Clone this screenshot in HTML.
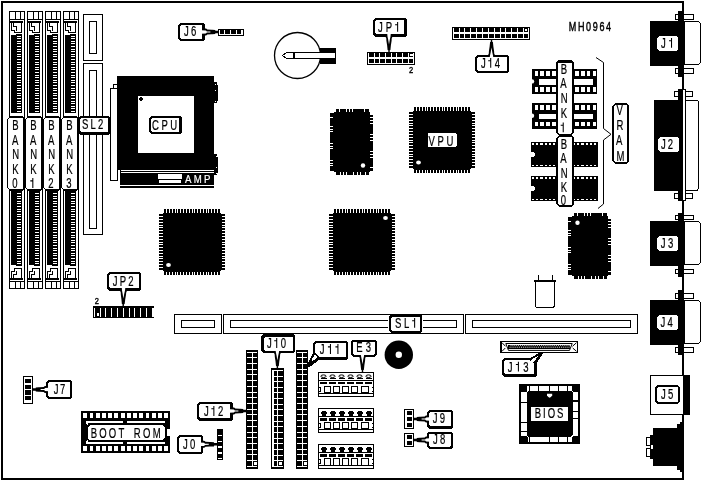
<!DOCTYPE html>
<html><head><meta charset="utf-8"><title>MH0964</title>
<style>
html,body{margin:0;padding:0;background:#fff;}
body{width:701px;height:481px;overflow:hidden;}
svg{display:block;filter:grayscale(1);}
svg text{font-family:"Liberation Sans",sans-serif;}
</style></head><body>
<svg width="701" height="481" viewBox="0 0 701 481" shape-rendering="crispEdges">
<rect x="2" y="2" width="681" height="477" fill="#fff" stroke="#000" stroke-width="2"/>
<rect x="9" y="11" width="16" height="278" fill="#000" />
<rect x="10" y="12" width="14" height="276" fill="#fff" />
<rect x="15" y="11" width="1" height="8" fill="#000" />
<rect x="20" y="11" width="1" height="8" fill="#000" />
<rect x="9" y="19" width="16" height="1" fill="#000" />
<rect x="10" y="21" width="13" height="2" fill="#000" />
<polyline points="11.5,23 11.5,30 14.5,30 14.5,32.5 21,32.5 21,23" fill="none" stroke="#000" stroke-width="1" />
<polyline points="13.5,23 13.5,26.5 16,26.5 16,30.5" fill="none" stroke="#000" stroke-width="1" />
<rect x="11" y="35" width="6" height="78" fill="#000" />
<rect x="16" y="34" width="6.4" height="79" fill="#000" />
<rect x="16.6" y="35.6" width="4.8" height="1" fill="#fff" />
<rect x="16.6" y="38.2" width="4.8" height="1" fill="#fff" />
<rect x="16.6" y="40.8" width="4.8" height="1" fill="#fff" />
<rect x="16.6" y="43.4" width="4.8" height="1" fill="#fff" />
<rect x="16.6" y="46" width="4.8" height="1" fill="#fff" />
<rect x="16.6" y="48.6" width="4.8" height="1" fill="#fff" />
<rect x="16.6" y="51.2" width="4.8" height="1" fill="#fff" />
<rect x="16.6" y="53.8" width="4.8" height="1" fill="#fff" />
<rect x="16.6" y="56.4" width="4.8" height="1" fill="#fff" />
<rect x="16.6" y="59" width="4.8" height="1" fill="#fff" />
<rect x="16.6" y="61.6" width="4.8" height="1" fill="#fff" />
<rect x="16.6" y="64.2" width="4.8" height="1" fill="#fff" />
<rect x="16.6" y="66.8" width="4.8" height="1" fill="#fff" />
<rect x="16.6" y="69.4" width="4.8" height="1" fill="#fff" />
<rect x="16.6" y="72" width="4.8" height="1" fill="#fff" />
<rect x="16.6" y="74.6" width="4.8" height="1" fill="#fff" />
<rect x="16.6" y="77.2" width="4.8" height="1" fill="#fff" />
<rect x="16.6" y="79.8" width="4.8" height="1" fill="#fff" />
<rect x="16.6" y="82.4" width="4.8" height="1" fill="#fff" />
<rect x="16.6" y="85" width="4.8" height="1" fill="#fff" />
<rect x="16.6" y="87.6" width="4.8" height="1" fill="#fff" />
<rect x="16.6" y="90.2" width="4.8" height="1" fill="#fff" />
<rect x="16.6" y="92.8" width="4.8" height="1" fill="#fff" />
<rect x="16.6" y="95.4" width="4.8" height="1" fill="#fff" />
<rect x="16.6" y="98" width="4.8" height="1" fill="#fff" />
<rect x="16.6" y="100.6" width="4.8" height="1" fill="#fff" />
<rect x="16.6" y="103.2" width="4.8" height="1" fill="#fff" />
<rect x="16.6" y="105.8" width="4.8" height="1" fill="#fff" />
<rect x="16.6" y="108.4" width="4.8" height="1" fill="#fff" />
<rect x="16.6" y="111" width="4.8" height="1" fill="#fff" />
<rect x="11" y="191" width="6" height="73.5" fill="#000" />
<rect x="16" y="191" width="6.4" height="74.5" fill="#000" />
<rect x="16.6" y="193" width="4.8" height="1" fill="#fff" />
<rect x="16.6" y="195.6" width="4.8" height="1" fill="#fff" />
<rect x="16.6" y="198.2" width="4.8" height="1" fill="#fff" />
<rect x="16.6" y="200.8" width="4.8" height="1" fill="#fff" />
<rect x="16.6" y="203.4" width="4.8" height="1" fill="#fff" />
<rect x="16.6" y="206" width="4.8" height="1" fill="#fff" />
<rect x="16.6" y="208.6" width="4.8" height="1" fill="#fff" />
<rect x="16.6" y="211.2" width="4.8" height="1" fill="#fff" />
<rect x="16.6" y="213.8" width="4.8" height="1" fill="#fff" />
<rect x="16.6" y="216.4" width="4.8" height="1" fill="#fff" />
<rect x="16.6" y="219" width="4.8" height="1" fill="#fff" />
<rect x="16.6" y="221.6" width="4.8" height="1" fill="#fff" />
<rect x="16.6" y="224.2" width="4.8" height="1" fill="#fff" />
<rect x="16.6" y="226.8" width="4.8" height="1" fill="#fff" />
<rect x="16.6" y="229.4" width="4.8" height="1" fill="#fff" />
<rect x="16.6" y="232" width="4.8" height="1" fill="#fff" />
<rect x="16.6" y="234.6" width="4.8" height="1" fill="#fff" />
<rect x="16.6" y="237.2" width="4.8" height="1" fill="#fff" />
<rect x="16.6" y="239.8" width="4.8" height="1" fill="#fff" />
<rect x="16.6" y="242.4" width="4.8" height="1" fill="#fff" />
<rect x="16.6" y="245" width="4.8" height="1" fill="#fff" />
<rect x="16.6" y="247.6" width="4.8" height="1" fill="#fff" />
<rect x="16.6" y="250.2" width="4.8" height="1" fill="#fff" />
<rect x="16.6" y="252.8" width="4.8" height="1" fill="#fff" />
<rect x="16.6" y="255.4" width="4.8" height="1" fill="#fff" />
<rect x="16.6" y="258" width="4.8" height="1" fill="#fff" />
<rect x="16.6" y="260.6" width="4.8" height="1" fill="#fff" />
<rect x="16.6" y="263.2" width="4.8" height="1" fill="#fff" />
<polyline points="11.5,278 11.5,271 14.5,271 14.5,268.5 21,268.5 21,278" fill="none" stroke="#000" stroke-width="1" />
<polyline points="13.5,278 13.5,274.5 16,274.5 16,270.5" fill="none" stroke="#000" stroke-width="1" />
<rect x="10" y="278" width="13" height="2" fill="#000" />
<rect x="9" y="281" width="16" height="1" fill="#000" />
<rect x="15" y="282" width="1" height="7" fill="#000" />
<rect x="20" y="282" width="1" height="7" fill="#000" />
<rect x="27" y="11" width="16" height="278" fill="#000" />
<rect x="28" y="12" width="14" height="276" fill="#fff" />
<rect x="33" y="11" width="1" height="8" fill="#000" />
<rect x="38" y="11" width="1" height="8" fill="#000" />
<rect x="27" y="19" width="16" height="1" fill="#000" />
<rect x="28" y="21" width="13" height="2" fill="#000" />
<polyline points="29.5,23 29.5,30 32.5,30 32.5,32.5 39,32.5 39,23" fill="none" stroke="#000" stroke-width="1" />
<polyline points="31.5,23 31.5,26.5 34,26.5 34,30.5" fill="none" stroke="#000" stroke-width="1" />
<rect x="29" y="35" width="6" height="78" fill="#000" />
<rect x="34" y="34" width="6.4" height="79" fill="#000" />
<rect x="34.6" y="35.6" width="4.8" height="1" fill="#fff" />
<rect x="34.6" y="38.2" width="4.8" height="1" fill="#fff" />
<rect x="34.6" y="40.8" width="4.8" height="1" fill="#fff" />
<rect x="34.6" y="43.4" width="4.8" height="1" fill="#fff" />
<rect x="34.6" y="46" width="4.8" height="1" fill="#fff" />
<rect x="34.6" y="48.6" width="4.8" height="1" fill="#fff" />
<rect x="34.6" y="51.2" width="4.8" height="1" fill="#fff" />
<rect x="34.6" y="53.8" width="4.8" height="1" fill="#fff" />
<rect x="34.6" y="56.4" width="4.8" height="1" fill="#fff" />
<rect x="34.6" y="59" width="4.8" height="1" fill="#fff" />
<rect x="34.6" y="61.6" width="4.8" height="1" fill="#fff" />
<rect x="34.6" y="64.2" width="4.8" height="1" fill="#fff" />
<rect x="34.6" y="66.8" width="4.8" height="1" fill="#fff" />
<rect x="34.6" y="69.4" width="4.8" height="1" fill="#fff" />
<rect x="34.6" y="72" width="4.8" height="1" fill="#fff" />
<rect x="34.6" y="74.6" width="4.8" height="1" fill="#fff" />
<rect x="34.6" y="77.2" width="4.8" height="1" fill="#fff" />
<rect x="34.6" y="79.8" width="4.8" height="1" fill="#fff" />
<rect x="34.6" y="82.4" width="4.8" height="1" fill="#fff" />
<rect x="34.6" y="85" width="4.8" height="1" fill="#fff" />
<rect x="34.6" y="87.6" width="4.8" height="1" fill="#fff" />
<rect x="34.6" y="90.2" width="4.8" height="1" fill="#fff" />
<rect x="34.6" y="92.8" width="4.8" height="1" fill="#fff" />
<rect x="34.6" y="95.4" width="4.8" height="1" fill="#fff" />
<rect x="34.6" y="98" width="4.8" height="1" fill="#fff" />
<rect x="34.6" y="100.6" width="4.8" height="1" fill="#fff" />
<rect x="34.6" y="103.2" width="4.8" height="1" fill="#fff" />
<rect x="34.6" y="105.8" width="4.8" height="1" fill="#fff" />
<rect x="34.6" y="108.4" width="4.8" height="1" fill="#fff" />
<rect x="34.6" y="111" width="4.8" height="1" fill="#fff" />
<rect x="29" y="191" width="6" height="73.5" fill="#000" />
<rect x="34" y="191" width="6.4" height="74.5" fill="#000" />
<rect x="34.6" y="193" width="4.8" height="1" fill="#fff" />
<rect x="34.6" y="195.6" width="4.8" height="1" fill="#fff" />
<rect x="34.6" y="198.2" width="4.8" height="1" fill="#fff" />
<rect x="34.6" y="200.8" width="4.8" height="1" fill="#fff" />
<rect x="34.6" y="203.4" width="4.8" height="1" fill="#fff" />
<rect x="34.6" y="206" width="4.8" height="1" fill="#fff" />
<rect x="34.6" y="208.6" width="4.8" height="1" fill="#fff" />
<rect x="34.6" y="211.2" width="4.8" height="1" fill="#fff" />
<rect x="34.6" y="213.8" width="4.8" height="1" fill="#fff" />
<rect x="34.6" y="216.4" width="4.8" height="1" fill="#fff" />
<rect x="34.6" y="219" width="4.8" height="1" fill="#fff" />
<rect x="34.6" y="221.6" width="4.8" height="1" fill="#fff" />
<rect x="34.6" y="224.2" width="4.8" height="1" fill="#fff" />
<rect x="34.6" y="226.8" width="4.8" height="1" fill="#fff" />
<rect x="34.6" y="229.4" width="4.8" height="1" fill="#fff" />
<rect x="34.6" y="232" width="4.8" height="1" fill="#fff" />
<rect x="34.6" y="234.6" width="4.8" height="1" fill="#fff" />
<rect x="34.6" y="237.2" width="4.8" height="1" fill="#fff" />
<rect x="34.6" y="239.8" width="4.8" height="1" fill="#fff" />
<rect x="34.6" y="242.4" width="4.8" height="1" fill="#fff" />
<rect x="34.6" y="245" width="4.8" height="1" fill="#fff" />
<rect x="34.6" y="247.6" width="4.8" height="1" fill="#fff" />
<rect x="34.6" y="250.2" width="4.8" height="1" fill="#fff" />
<rect x="34.6" y="252.8" width="4.8" height="1" fill="#fff" />
<rect x="34.6" y="255.4" width="4.8" height="1" fill="#fff" />
<rect x="34.6" y="258" width="4.8" height="1" fill="#fff" />
<rect x="34.6" y="260.6" width="4.8" height="1" fill="#fff" />
<rect x="34.6" y="263.2" width="4.8" height="1" fill="#fff" />
<polyline points="29.5,278 29.5,271 32.5,271 32.5,268.5 39,268.5 39,278" fill="none" stroke="#000" stroke-width="1" />
<polyline points="31.5,278 31.5,274.5 34,274.5 34,270.5" fill="none" stroke="#000" stroke-width="1" />
<rect x="28" y="278" width="13" height="2" fill="#000" />
<rect x="27" y="281" width="16" height="1" fill="#000" />
<rect x="33" y="282" width="1" height="7" fill="#000" />
<rect x="38" y="282" width="1" height="7" fill="#000" />
<rect x="45" y="11" width="16" height="278" fill="#000" />
<rect x="46" y="12" width="14" height="276" fill="#fff" />
<rect x="51" y="11" width="1" height="8" fill="#000" />
<rect x="56" y="11" width="1" height="8" fill="#000" />
<rect x="45" y="19" width="16" height="1" fill="#000" />
<rect x="46" y="21" width="13" height="2" fill="#000" />
<polyline points="47.5,23 47.5,30 50.5,30 50.5,32.5 57,32.5 57,23" fill="none" stroke="#000" stroke-width="1" />
<polyline points="49.5,23 49.5,26.5 52,26.5 52,30.5" fill="none" stroke="#000" stroke-width="1" />
<rect x="47" y="35" width="6" height="78" fill="#000" />
<rect x="52" y="34" width="6.4" height="79" fill="#000" />
<rect x="52.6" y="35.6" width="4.8" height="1" fill="#fff" />
<rect x="52.6" y="38.2" width="4.8" height="1" fill="#fff" />
<rect x="52.6" y="40.8" width="4.8" height="1" fill="#fff" />
<rect x="52.6" y="43.4" width="4.8" height="1" fill="#fff" />
<rect x="52.6" y="46" width="4.8" height="1" fill="#fff" />
<rect x="52.6" y="48.6" width="4.8" height="1" fill="#fff" />
<rect x="52.6" y="51.2" width="4.8" height="1" fill="#fff" />
<rect x="52.6" y="53.8" width="4.8" height="1" fill="#fff" />
<rect x="52.6" y="56.4" width="4.8" height="1" fill="#fff" />
<rect x="52.6" y="59" width="4.8" height="1" fill="#fff" />
<rect x="52.6" y="61.6" width="4.8" height="1" fill="#fff" />
<rect x="52.6" y="64.2" width="4.8" height="1" fill="#fff" />
<rect x="52.6" y="66.8" width="4.8" height="1" fill="#fff" />
<rect x="52.6" y="69.4" width="4.8" height="1" fill="#fff" />
<rect x="52.6" y="72" width="4.8" height="1" fill="#fff" />
<rect x="52.6" y="74.6" width="4.8" height="1" fill="#fff" />
<rect x="52.6" y="77.2" width="4.8" height="1" fill="#fff" />
<rect x="52.6" y="79.8" width="4.8" height="1" fill="#fff" />
<rect x="52.6" y="82.4" width="4.8" height="1" fill="#fff" />
<rect x="52.6" y="85" width="4.8" height="1" fill="#fff" />
<rect x="52.6" y="87.6" width="4.8" height="1" fill="#fff" />
<rect x="52.6" y="90.2" width="4.8" height="1" fill="#fff" />
<rect x="52.6" y="92.8" width="4.8" height="1" fill="#fff" />
<rect x="52.6" y="95.4" width="4.8" height="1" fill="#fff" />
<rect x="52.6" y="98" width="4.8" height="1" fill="#fff" />
<rect x="52.6" y="100.6" width="4.8" height="1" fill="#fff" />
<rect x="52.6" y="103.2" width="4.8" height="1" fill="#fff" />
<rect x="52.6" y="105.8" width="4.8" height="1" fill="#fff" />
<rect x="52.6" y="108.4" width="4.8" height="1" fill="#fff" />
<rect x="52.6" y="111" width="4.8" height="1" fill="#fff" />
<rect x="47" y="191" width="6" height="73.5" fill="#000" />
<rect x="52" y="191" width="6.4" height="74.5" fill="#000" />
<rect x="52.6" y="193" width="4.8" height="1" fill="#fff" />
<rect x="52.6" y="195.6" width="4.8" height="1" fill="#fff" />
<rect x="52.6" y="198.2" width="4.8" height="1" fill="#fff" />
<rect x="52.6" y="200.8" width="4.8" height="1" fill="#fff" />
<rect x="52.6" y="203.4" width="4.8" height="1" fill="#fff" />
<rect x="52.6" y="206" width="4.8" height="1" fill="#fff" />
<rect x="52.6" y="208.6" width="4.8" height="1" fill="#fff" />
<rect x="52.6" y="211.2" width="4.8" height="1" fill="#fff" />
<rect x="52.6" y="213.8" width="4.8" height="1" fill="#fff" />
<rect x="52.6" y="216.4" width="4.8" height="1" fill="#fff" />
<rect x="52.6" y="219" width="4.8" height="1" fill="#fff" />
<rect x="52.6" y="221.6" width="4.8" height="1" fill="#fff" />
<rect x="52.6" y="224.2" width="4.8" height="1" fill="#fff" />
<rect x="52.6" y="226.8" width="4.8" height="1" fill="#fff" />
<rect x="52.6" y="229.4" width="4.8" height="1" fill="#fff" />
<rect x="52.6" y="232" width="4.8" height="1" fill="#fff" />
<rect x="52.6" y="234.6" width="4.8" height="1" fill="#fff" />
<rect x="52.6" y="237.2" width="4.8" height="1" fill="#fff" />
<rect x="52.6" y="239.8" width="4.8" height="1" fill="#fff" />
<rect x="52.6" y="242.4" width="4.8" height="1" fill="#fff" />
<rect x="52.6" y="245" width="4.8" height="1" fill="#fff" />
<rect x="52.6" y="247.6" width="4.8" height="1" fill="#fff" />
<rect x="52.6" y="250.2" width="4.8" height="1" fill="#fff" />
<rect x="52.6" y="252.8" width="4.8" height="1" fill="#fff" />
<rect x="52.6" y="255.4" width="4.8" height="1" fill="#fff" />
<rect x="52.6" y="258" width="4.8" height="1" fill="#fff" />
<rect x="52.6" y="260.6" width="4.8" height="1" fill="#fff" />
<rect x="52.6" y="263.2" width="4.8" height="1" fill="#fff" />
<polyline points="47.5,278 47.5,271 50.5,271 50.5,268.5 57,268.5 57,278" fill="none" stroke="#000" stroke-width="1" />
<polyline points="49.5,278 49.5,274.5 52,274.5 52,270.5" fill="none" stroke="#000" stroke-width="1" />
<rect x="46" y="278" width="13" height="2" fill="#000" />
<rect x="45" y="281" width="16" height="1" fill="#000" />
<rect x="51" y="282" width="1" height="7" fill="#000" />
<rect x="56" y="282" width="1" height="7" fill="#000" />
<rect x="63" y="11" width="16" height="278" fill="#000" />
<rect x="64" y="12" width="14" height="276" fill="#fff" />
<rect x="69" y="11" width="1" height="8" fill="#000" />
<rect x="74" y="11" width="1" height="8" fill="#000" />
<rect x="63" y="19" width="16" height="1" fill="#000" />
<rect x="64" y="21" width="13" height="2" fill="#000" />
<polyline points="65.5,23 65.5,30 68.5,30 68.5,32.5 75,32.5 75,23" fill="none" stroke="#000" stroke-width="1" />
<polyline points="67.5,23 67.5,26.5 70,26.5 70,30.5" fill="none" stroke="#000" stroke-width="1" />
<rect x="65" y="35" width="6" height="78" fill="#000" />
<rect x="70" y="34" width="6.4" height="79" fill="#000" />
<rect x="70.6" y="35.6" width="4.8" height="1" fill="#fff" />
<rect x="70.6" y="38.2" width="4.8" height="1" fill="#fff" />
<rect x="70.6" y="40.8" width="4.8" height="1" fill="#fff" />
<rect x="70.6" y="43.4" width="4.8" height="1" fill="#fff" />
<rect x="70.6" y="46" width="4.8" height="1" fill="#fff" />
<rect x="70.6" y="48.6" width="4.8" height="1" fill="#fff" />
<rect x="70.6" y="51.2" width="4.8" height="1" fill="#fff" />
<rect x="70.6" y="53.8" width="4.8" height="1" fill="#fff" />
<rect x="70.6" y="56.4" width="4.8" height="1" fill="#fff" />
<rect x="70.6" y="59" width="4.8" height="1" fill="#fff" />
<rect x="70.6" y="61.6" width="4.8" height="1" fill="#fff" />
<rect x="70.6" y="64.2" width="4.8" height="1" fill="#fff" />
<rect x="70.6" y="66.8" width="4.8" height="1" fill="#fff" />
<rect x="70.6" y="69.4" width="4.8" height="1" fill="#fff" />
<rect x="70.6" y="72" width="4.8" height="1" fill="#fff" />
<rect x="70.6" y="74.6" width="4.8" height="1" fill="#fff" />
<rect x="70.6" y="77.2" width="4.8" height="1" fill="#fff" />
<rect x="70.6" y="79.8" width="4.8" height="1" fill="#fff" />
<rect x="70.6" y="82.4" width="4.8" height="1" fill="#fff" />
<rect x="70.6" y="85" width="4.8" height="1" fill="#fff" />
<rect x="70.6" y="87.6" width="4.8" height="1" fill="#fff" />
<rect x="70.6" y="90.2" width="4.8" height="1" fill="#fff" />
<rect x="70.6" y="92.8" width="4.8" height="1" fill="#fff" />
<rect x="70.6" y="95.4" width="4.8" height="1" fill="#fff" />
<rect x="70.6" y="98" width="4.8" height="1" fill="#fff" />
<rect x="70.6" y="100.6" width="4.8" height="1" fill="#fff" />
<rect x="70.6" y="103.2" width="4.8" height="1" fill="#fff" />
<rect x="70.6" y="105.8" width="4.8" height="1" fill="#fff" />
<rect x="70.6" y="108.4" width="4.8" height="1" fill="#fff" />
<rect x="70.6" y="111" width="4.8" height="1" fill="#fff" />
<rect x="65" y="191" width="6" height="73.5" fill="#000" />
<rect x="70" y="191" width="6.4" height="74.5" fill="#000" />
<rect x="70.6" y="193" width="4.8" height="1" fill="#fff" />
<rect x="70.6" y="195.6" width="4.8" height="1" fill="#fff" />
<rect x="70.6" y="198.2" width="4.8" height="1" fill="#fff" />
<rect x="70.6" y="200.8" width="4.8" height="1" fill="#fff" />
<rect x="70.6" y="203.4" width="4.8" height="1" fill="#fff" />
<rect x="70.6" y="206" width="4.8" height="1" fill="#fff" />
<rect x="70.6" y="208.6" width="4.8" height="1" fill="#fff" />
<rect x="70.6" y="211.2" width="4.8" height="1" fill="#fff" />
<rect x="70.6" y="213.8" width="4.8" height="1" fill="#fff" />
<rect x="70.6" y="216.4" width="4.8" height="1" fill="#fff" />
<rect x="70.6" y="219" width="4.8" height="1" fill="#fff" />
<rect x="70.6" y="221.6" width="4.8" height="1" fill="#fff" />
<rect x="70.6" y="224.2" width="4.8" height="1" fill="#fff" />
<rect x="70.6" y="226.8" width="4.8" height="1" fill="#fff" />
<rect x="70.6" y="229.4" width="4.8" height="1" fill="#fff" />
<rect x="70.6" y="232" width="4.8" height="1" fill="#fff" />
<rect x="70.6" y="234.6" width="4.8" height="1" fill="#fff" />
<rect x="70.6" y="237.2" width="4.8" height="1" fill="#fff" />
<rect x="70.6" y="239.8" width="4.8" height="1" fill="#fff" />
<rect x="70.6" y="242.4" width="4.8" height="1" fill="#fff" />
<rect x="70.6" y="245" width="4.8" height="1" fill="#fff" />
<rect x="70.6" y="247.6" width="4.8" height="1" fill="#fff" />
<rect x="70.6" y="250.2" width="4.8" height="1" fill="#fff" />
<rect x="70.6" y="252.8" width="4.8" height="1" fill="#fff" />
<rect x="70.6" y="255.4" width="4.8" height="1" fill="#fff" />
<rect x="70.6" y="258" width="4.8" height="1" fill="#fff" />
<rect x="70.6" y="260.6" width="4.8" height="1" fill="#fff" />
<rect x="70.6" y="263.2" width="4.8" height="1" fill="#fff" />
<polyline points="65.5,278 65.5,271 68.5,271 68.5,268.5 75,268.5 75,278" fill="none" stroke="#000" stroke-width="1" />
<polyline points="67.5,278 67.5,274.5 70,274.5 70,270.5" fill="none" stroke="#000" stroke-width="1" />
<rect x="64" y="278" width="13" height="2" fill="#000" />
<rect x="63" y="281" width="16" height="1" fill="#000" />
<rect x="69" y="282" width="1" height="7" fill="#000" />
<rect x="74" y="282" width="1" height="7" fill="#000" />
<rect x="83" y="14" width="20" height="47" fill="#000" />
<rect x="84" y="15" width="18" height="45" fill="#fff" />
<rect x="89" y="21" width="8" height="33" fill="#000" />
<rect x="90" y="22" width="6" height="31" fill="#fff" />
<rect x="83" y="63" width="20" height="172" fill="#000" />
<rect x="84" y="64" width="18" height="170" fill="#fff" />
<rect x="89" y="70" width="8" height="159" fill="#000" />
<rect x="90" y="71" width="6" height="157" fill="#fff" />
<rect x="110" y="88" width="8" height="93" fill="#000" />
<rect x="111" y="89" width="6" height="91" fill="#fff" />
<polyline points="113.5,88 113.5,84.5 117,84.5" fill="none" stroke="#000" stroke-width="1" />
<rect x="117" y="76" width="97" height="94" fill="#000" />
<rect x="138" y="96" width="56" height="57" fill="#fff" />
<polygon points="140.5,96.5 143,99 140.5,101.5 138,99" fill="#000" stroke="none" stroke-width="1" />
<rect x="214" y="82" width="3" height="21" fill="#000" />
<rect x="217" y="85" width="1" height="16" fill="#000" />
<rect x="215" y="84" width="1" height="1.4" fill="#fff" />
<rect x="215" y="90" width="1" height="1.4" fill="#fff" />
<rect x="215" y="101" width="1" height="1.4" fill="#fff" />
<rect x="214" y="154" width="3" height="21" fill="#000" />
<rect x="217" y="157" width="1" height="16" fill="#000" />
<rect x="215.5" y="155.5" width="1" height="1.2" fill="#fff" />
<rect x="215.5" y="167" width="1" height="1.2" fill="#fff" />
<rect x="215.5" y="172.5" width="1" height="1.2" fill="#fff" />
<rect x="120" y="171" width="94" height="1" fill="#000" />
<rect x="120" y="173" width="94" height="11.7" fill="#000" />
<rect x="120" y="170" width="1" height="15" fill="#000" />
<rect x="120" y="186.3" width="94" height="1.5" fill="#000" />
<rect x="158" y="174.3" width="24.2" height="4.5" fill="#fff" />
<rect x="159" y="180" width="22.2" height="2.8" fill="#fff" />
<text transform="translate(185.00,182.6) scale(0.86,1)" font-size="11.2" fill="#fff" stroke="#fff" stroke-width="0.22" >A</text>
<text transform="translate(193.75,182.6) scale(0.86,1)" font-size="11.2" fill="#fff" stroke="#fff" stroke-width="0.22" >M</text>
<text transform="translate(204.09,182.6) scale(0.86,1)" font-size="11.2" fill="#fff" stroke="#fff" stroke-width="0.22" >P</text>
<polygon points="151,116 180,116 182,118 182,132 180,134 151,134 149,132 149,118" fill="#000" stroke="none" stroke-width="1" />
<polygon points="152,118 178,118 179,119 179,131 178,132 152,132 151,131 151,119" fill="#fff" stroke="none" stroke-width="1" />
<text transform="translate(152.00,129.7) scale(0.68,1)" font-size="14" fill="#000" stroke="#000" stroke-width="0.22" >C</text>
<text transform="translate(161.39,129.7) scale(0.68,1)" font-size="14" fill="#000" stroke="#000" stroke-width="0.22" >P</text>
<text transform="translate(170.25,129.7) scale(0.68,1)" font-size="14" fill="#000" stroke="#000" stroke-width="0.22" >U</text>
<polygon points="10,116 22,116 25,119 25,188 22,191 10,191 7,188 7,119" fill="#000" stroke="none" stroke-width="1" />
<polygon points="9,118 22,118 23,119 23,188 22,189 9,189 8,188 8,119" fill="#fff" stroke="none" stroke-width="1" />
<text transform="translate(12.30,129.9) scale(0.68,1)" font-size="14" fill="#000" stroke="#000" stroke-width="0.22" >B</text>
<text transform="translate(11.90,144.9) scale(0.68,1)" font-size="14" fill="#000" stroke="#000" stroke-width="0.22" >A</text>
<text transform="translate(12.30,158.9) scale(0.68,1)" font-size="14" fill="#000" stroke="#000" stroke-width="0.22" >N</text>
<text transform="translate(12.30,173.8) scale(0.68,1)" font-size="14" fill="#000" stroke="#000" stroke-width="0.22" >K</text>
<text transform="translate(12.30,188) scale(0.68,1)" font-size="14" fill="#000" stroke="#000" stroke-width="0.22" >0</text>
<polygon points="28,116 40,116 43,119 43,188 40,191 28,191 25,188 25,119" fill="#000" stroke="none" stroke-width="1" />
<polygon points="27,118 40,118 41,119 41,188 40,189 27,189 26,188 26,119" fill="#fff" stroke="none" stroke-width="1" />
<text transform="translate(30.30,129.9) scale(0.68,1)" font-size="14" fill="#000" stroke="#000" stroke-width="0.22" >B</text>
<text transform="translate(29.90,144.9) scale(0.68,1)" font-size="14" fill="#000" stroke="#000" stroke-width="0.22" >A</text>
<text transform="translate(30.30,158.9) scale(0.68,1)" font-size="14" fill="#000" stroke="#000" stroke-width="0.22" >N</text>
<text transform="translate(30.30,173.8) scale(0.68,1)" font-size="14" fill="#000" stroke="#000" stroke-width="0.22" >K</text>
<path d="M32.30 178.10 h1.05 v9.90 h-1.05 v-6.60 h-2.00 v-1.05 h2.00 z" fill="#000" shape-rendering="auto"/>
<polygon points="46,116 58,116 61,119 61,188 58,191 46,191 43,188 43,119" fill="#000" stroke="none" stroke-width="1" />
<polygon points="45,118 58,118 59,119 59,188 58,189 45,189 44,188 44,119" fill="#fff" stroke="none" stroke-width="1" />
<text transform="translate(48.30,129.9) scale(0.68,1)" font-size="14" fill="#000" stroke="#000" stroke-width="0.22" >B</text>
<text transform="translate(47.90,144.9) scale(0.68,1)" font-size="14" fill="#000" stroke="#000" stroke-width="0.22" >A</text>
<text transform="translate(48.30,158.9) scale(0.68,1)" font-size="14" fill="#000" stroke="#000" stroke-width="0.22" >N</text>
<text transform="translate(48.30,173.8) scale(0.68,1)" font-size="14" fill="#000" stroke="#000" stroke-width="0.22" >K</text>
<text transform="translate(48.30,188) scale(0.68,1)" font-size="14" fill="#000" stroke="#000" stroke-width="0.22" >2</text>
<polygon points="64,116 76,116 79,119 79,188 76,191 64,191 61,188 61,119" fill="#000" stroke="none" stroke-width="1" />
<polygon points="63,118 76,118 77,119 77,188 76,189 63,189 62,188 62,119" fill="#fff" stroke="none" stroke-width="1" />
<text transform="translate(66.30,129.9) scale(0.68,1)" font-size="14" fill="#000" stroke="#000" stroke-width="0.22" >B</text>
<text transform="translate(65.90,144.9) scale(0.68,1)" font-size="14" fill="#000" stroke="#000" stroke-width="0.22" >A</text>
<text transform="translate(66.30,158.9) scale(0.68,1)" font-size="14" fill="#000" stroke="#000" stroke-width="0.22" >N</text>
<text transform="translate(66.30,173.8) scale(0.68,1)" font-size="14" fill="#000" stroke="#000" stroke-width="0.22" >K</text>
<text transform="translate(66.30,188) scale(0.68,1)" font-size="14" fill="#000" stroke="#000" stroke-width="0.22" >3</text>
<polygon points="80,116 108,116 110,118 110,133 108,135 80,135 78,133 78,118" fill="#000" stroke="none" stroke-width="1" />
<polygon points="81,118 107,118 108,119 108,131 107,132 81,132 80,131 80,119" fill="#fff" stroke="none" stroke-width="1" />
<text transform="translate(82.00,128.9) scale(0.68,1)" font-size="14" fill="#000" stroke="#000" stroke-width="0.22" >S</text>
<text transform="translate(90.54,128.9) scale(0.68,1)" font-size="14" fill="#000" stroke="#000" stroke-width="0.22" >L</text>
<text transform="translate(98.02,128.9) scale(0.68,1)" font-size="14" fill="#000" stroke="#000" stroke-width="0.22" >2</text>
<polygon points="180,23 203,23 205,25 205,39 203,41 180,41 178,39 178,25" fill="#000" stroke="none" stroke-width="1" />
<polygon points="181,25 201,25 202,26 202,38 201,39 181,39 180,38 180,26" fill="#fff" stroke="none" stroke-width="1" />
<text transform="translate(184.00,35.7) scale(0.68,1)" font-size="14" fill="#000" stroke="#000" stroke-width="0.22" >J</text>
<text transform="translate(191.02,35.7) scale(0.68,1)" font-size="14" fill="#000" stroke="#000" stroke-width="0.22" >6</text>
<polygon points="204.5,35.8 206.6,35.3 207.3,34.5 211.5,34.3 212.2,34.2 215.14,34.1 215.42,33.25 218.5,33.25 218.5,30.75 215.42,30.75 215.14,29.9 212.2,29.8 211.5,29.7 207.3,29.5 206.6,28.7 204.5,28.2" fill="#000" stroke="none" stroke-width="1" shape-rendering="geometricPrecision"/>
<polygon points="201.3,33.8 205.9,33.6 206.88,32.6 210.38,32.5 210.38,31.5 206.88,31.4 205.9,30.4 201.3,30.2" fill="#fff" stroke="none" stroke-width="1" shape-rendering="geometricPrecision"/>
<rect x="218" y="29" width="26" height="7" fill="#000" />
<rect x="219" y="30" width="24" height="5" fill="#fff" />
<rect x="220" y="29" width="21.4" height="4.8" fill="#000" />
<rect x="224" y="30" width="1" height="4" fill="#fff" />
<rect x="230" y="30" width="1" height="4" fill="#fff" />
<rect x="236" y="30" width="1" height="4" fill="#fff" />
<circle cx="297.5" cy="55.5" r="23" fill="#fff" stroke="#000" stroke-width="1.3" shape-rendering="auto"/>
<rect x="319.5" y="48" width="16.5" height="16" fill="#000" />
<polygon points="282.5,55.5 286.5,52.5 335.5,52.5 335.5,58.5 286.5,58.5" fill="#fff" stroke="#000" stroke-width="1" />
<rect x="293" y="52" width="1.5" height="7" fill="#000" />
<polygon points="375,18 405,18 407,20 407,35 405,37 375,37 373,35 373,20" fill="#000" stroke="none" stroke-width="1" />
<polygon points="376,20 403,20 404,21 404,33 403,34 376,34 375,33 375,21" fill="#fff" stroke="none" stroke-width="1" />
<text transform="translate(377.90,31.8) scale(0.68,1)" font-size="14" fill="#000" stroke="#000" stroke-width="0.22" >J</text>
<text transform="translate(385.70,31.8) scale(0.68,1)" font-size="14" fill="#000" stroke="#000" stroke-width="0.22" >P</text>
<path d="M397.10 21.90 h1.05 v9.90 h-1.05 v-6.60 h-2.00 v-1.05 h2.00 z" fill="#000" shape-rendering="auto"/>
<polygon points="385.4,36.5 386.3,38.58 386.4,40.82 387.1,45.3 387.6,49.94 388.3,50.26 388.3,52.5 389.7,52.5 389.7,50.26 390.4,49.94 390.9,45.3 391.6,40.82 391.7,38.58 392.6,36.5" fill="#000" stroke="none" stroke-width="1" shape-rendering="geometricPrecision"/>
<polygon points="387.2,33.3 387.5,36.5 388.2,39.7 389,44.5 389,44.5 389.8,39.7 390.5,36.5 390.8,33.3" fill="#fff" stroke="none" stroke-width="1" shape-rendering="geometricPrecision"/>
<rect x="367" y="52" width="48" height="13" fill="#000" />
<rect x="367.9" y="53.2" width="1" height="10.6" fill="#fff" />
<rect x="373.7" y="53.2" width="1" height="10.6" fill="#fff" />
<rect x="379.1" y="53.2" width="1" height="10.6" fill="#fff" />
<rect x="384.9" y="53.2" width="1" height="10.6" fill="#fff" />
<rect x="390.8" y="53.2" width="1" height="10.6" fill="#fff" />
<rect x="396.3" y="53.2" width="1" height="10.6" fill="#fff" />
<rect x="402" y="53.2" width="1" height="10.6" fill="#fff" />
<rect x="407.8" y="53.2" width="1" height="10.6" fill="#fff" />
<rect x="413.2" y="53.2" width="1" height="10.6" fill="#fff" />
<rect x="368" y="57.4" width="46" height="1.4" fill="#fff" />
<rect x="368" y="62.8" width="46" height="1" fill="#fff" />
<rect x="410" y="54" width="3" height="2" fill="#fff" />
<text transform="translate(408.90,72.6) scale(0.85,1)" font-size="8.8" fill="#000" stroke="#000" stroke-width="0.4">2</text>
<rect x="452" y="27" width="78" height="13" fill="#000" />
<rect x="453" y="28.2" width="1" height="10.8" fill="#fff" />
<rect x="458.8" y="28.2" width="1" height="10.8" fill="#fff" />
<rect x="464.4" y="28.2" width="1" height="10.8" fill="#fff" />
<rect x="470" y="28.2" width="1" height="10.8" fill="#fff" />
<rect x="476" y="28.2" width="1" height="10.8" fill="#fff" />
<rect x="481.9" y="28.2" width="1" height="10.8" fill="#fff" />
<rect x="487.9" y="28.2" width="1" height="10.8" fill="#fff" />
<rect x="493.7" y="28.2" width="1" height="10.8" fill="#fff" />
<rect x="499.7" y="28.2" width="1" height="10.8" fill="#fff" />
<rect x="505.3" y="28.2" width="1" height="10.8" fill="#fff" />
<rect x="511.1" y="28.2" width="1" height="10.8" fill="#fff" />
<rect x="517.1" y="28.2" width="1" height="10.8" fill="#fff" />
<rect x="522.7" y="28.2" width="1" height="10.8" fill="#fff" />
<rect x="528.1" y="28.2" width="1" height="10.8" fill="#fff" />
<rect x="453" y="32.4" width="76" height="1.4" fill="#fff" />
<rect x="453" y="38" width="76" height="1" fill="#fff" />
<rect x="525" y="29" width="2.2" height="2.2" fill="#fff" />
<polygon points="477,55 507,55 509,57 509,71 507,73 477,73 475,71 475,57" fill="#000" stroke="none" stroke-width="1" />
<polygon points="478,57 506,57 507,58 507,70 506,71 478,71 477,70 477,58" fill="#fff" stroke="none" stroke-width="1" />
<text transform="translate(480.90,67.8) scale(0.68,1)" font-size="14" fill="#000" stroke="#000" stroke-width="0.22" >J</text>
<path d="M490.19 57.90 h1.05 v9.90 h-1.05 v-6.60 h-2.00 v-1.05 h2.00 z" fill="#000" shape-rendering="auto"/>
<text transform="translate(494.82,67.8) scale(0.68,1)" font-size="14" fill="#000" stroke="#000" stroke-width="0.22" >4</text>
<polygon points="495.1,55.5 494.2,53.42 494.1,51.18 493.4,46.7 492.9,42.06 492.2,41.74 492.2,39.5 490.8,39.5 490.8,41.74 490.1,42.06 489.6,46.7 488.9,51.18 488.8,53.42 487.9,55.5" fill="#000" stroke="none" stroke-width="1" shape-rendering="geometricPrecision"/>
<polygon points="493.3,57.7 493,55.5 492.3,52.3 491.5,47.5 491.5,47.5 490.7,52.3 490,55.5 489.7,57.7" fill="#fff" stroke="none" stroke-width="1" shape-rendering="geometricPrecision"/>
<text transform="translate(568.80,30.6) scale(0.74,1)" font-size="12.2" fill="#000" stroke="#000" stroke-width="0.45">M</text>
<text transform="translate(577.96,30.6) scale(0.74,1)" font-size="12.2" fill="#000" stroke="#000" stroke-width="0.45">H</text>
<text transform="translate(586.11,30.6) scale(0.74,1)" font-size="12.2" fill="#000" stroke="#000" stroke-width="0.45">0</text>
<text transform="translate(592.77,30.6) scale(0.74,1)" font-size="12.2" fill="#000" stroke="#000" stroke-width="0.45">9</text>
<text transform="translate(599.43,30.6) scale(0.74,1)" font-size="12.2" fill="#000" stroke="#000" stroke-width="0.45">6</text>
<text transform="translate(606.09,30.6) scale(0.74,1)" font-size="12.2" fill="#000" stroke="#000" stroke-width="0.45">4</text>
<rect x="675" y="14" width="19" height="6" fill="#000" />
<rect x="676" y="15" width="17" height="4" fill="#fff" />
<rect x="678" y="11" width="6" height="10" fill="#000" />
<rect x="675" y="68" width="19" height="6" fill="#000" />
<rect x="676" y="69" width="17" height="4" fill="#fff" />
<rect x="678" y="66" width="6" height="11" fill="#000" />
<rect x="650" y="21" width="34" height="45" fill="#000" />
<path d="M684.5 21.5 H697 Q700.5 21.5 700.5 25 V61.5 Q700.5 64.5 697 64.5 H684.5 Z" fill="#fff" stroke="#000" stroke-width="1"/>
<rect x="654" y="100" width="30" height="91" fill="#000" />
<path d="M685.5 100.5 H696 Q698.5 100.5 698.5 103 V187 Q698.5 190.5 696 190.5 H685.5 Z" fill="#fff" stroke="#000" stroke-width="1"/>
<rect x="674" y="91" width="19" height="6" fill="#000" />
<rect x="675" y="92" width="17" height="4" fill="#fff" />
<rect x="674" y="193" width="19" height="6" fill="#000" />
<rect x="675" y="194" width="17" height="4" fill="#fff" />
<rect x="678" y="89" width="5" height="11" fill="#000" />
<rect x="678" y="191" width="5" height="10" fill="#000" />
<rect x="682" y="89" width="4" height="112" fill="#000" />
<rect x="683" y="90" width="2" height="110" fill="#fff" />
<rect x="675" y="215" width="19" height="5" fill="#000" />
<rect x="676" y="216" width="17" height="3" fill="#fff" />
<rect x="678" y="213" width="6" height="8" fill="#000" />
<rect x="675" y="269" width="19" height="5" fill="#000" />
<rect x="676" y="270" width="17" height="3" fill="#fff" />
<rect x="678" y="266" width="6" height="11" fill="#000" />
<rect x="650" y="221" width="34" height="45" fill="#000" />
<path d="M684.5 221.5 H697 Q700.5 221.5 700.5 225 V261.5 Q700.5 264.5 697 264.5 H684.5 Z" fill="#fff" stroke="#000" stroke-width="1"/>
<rect x="675" y="293" width="19" height="6" fill="#000" />
<rect x="676" y="294" width="17" height="4" fill="#fff" />
<rect x="678" y="290" width="6" height="10" fill="#000" />
<rect x="675" y="347" width="19" height="6" fill="#000" />
<rect x="676" y="348" width="17" height="4" fill="#fff" />
<rect x="678" y="345" width="6" height="10" fill="#000" />
<rect x="650" y="300" width="34" height="45" fill="#000" />
<path d="M684.5 300.5 H697 Q700.5 300.5 700.5 304 V340.5 Q700.5 343.5 697 343.5 H684.5 Z" fill="#fff" stroke="#000" stroke-width="1"/>
<polygon points="659,36 676,36 678,38 678,49 676,51 659,51 657,49 657,38" fill="#fff" stroke="none" stroke-width="1" />
<text transform="translate(660.90,47.8) scale(0.68,1)" font-size="14" fill="#000" stroke="#000" stroke-width="0.22" >J</text>
<path d="M671.00 37.90 h1.05 v9.90 h-1.05 v-6.60 h-2.00 v-1.05 h2.00 z" fill="#000" shape-rendering="auto"/>
<polygon points="660,137 677,137 679,139 679,150 677,152 660,152 658,150 658,139" fill="#fff" stroke="none" stroke-width="1" />
<text transform="translate(660.90,148.9) scale(0.68,1)" font-size="14" fill="#000" stroke="#000" stroke-width="0.22" >J</text>
<text transform="translate(667.82,148.9) scale(0.68,1)" font-size="14" fill="#000" stroke="#000" stroke-width="0.22" >2</text>
<polygon points="659,236 676,236 678,238 678,249 676,251 659,251 657,249 657,238" fill="#fff" stroke="none" stroke-width="1" />
<text transform="translate(660.80,248.1) scale(0.68,1)" font-size="14" fill="#000" stroke="#000" stroke-width="0.22" >J</text>
<text transform="translate(667.92,248.1) scale(0.68,1)" font-size="14" fill="#000" stroke="#000" stroke-width="0.22" >3</text>
<polygon points="659,315 676,315 678,317 678,328 676,330 659,330 657,328 657,317" fill="#fff" stroke="none" stroke-width="1" />
<text transform="translate(660.60,326.8) scale(0.68,1)" font-size="14" fill="#000" stroke="#000" stroke-width="0.22" >J</text>
<text transform="translate(667.52,326.8) scale(0.68,1)" font-size="14" fill="#000" stroke="#000" stroke-width="0.22" >4</text>
<rect x="650" y="375" width="35" height="40" fill="#000" />
<rect x="651" y="376" width="33" height="38" fill="#fff" />
<rect x="683" y="375" width="7" height="40" fill="#000" />
<polygon points="657.5,385 677.5,385 680,387.5 680,401.5 677.5,404 657.5,404 655,401.5 655,387.5" fill="#000" stroke="none" stroke-width="1" />
<polygon points="658,387 677,387 678,388 678,401 677,402 658,402 657,401 657,388" fill="#fff" stroke="none" stroke-width="1" />
<text transform="translate(660.90,398.8) scale(0.68,1)" font-size="14" fill="#000" stroke="#000" stroke-width="0.22" >J</text>
<text transform="translate(667.97,398.8) scale(0.68,1)" font-size="14" fill="#000" stroke="#000" stroke-width="0.22" >5</text>
<polygon points="653,428 677,428 677,424 680,424 680,421.5 682,421.5 682,472 680,472 680,470 677,470 677,466 653,466 653,459 650,459 650,435 653,435" fill="#000" stroke="none" stroke-width="1" />
<rect x="646" y="437" width="5" height="9" fill="#000" />
<rect x="647" y="438" width="3" height="7" fill="#fff" />
<rect x="646" y="448" width="5" height="9" fill="#000" />
<rect x="647" y="449" width="3" height="7" fill="#fff" />
<rect x="651" y="445" width="2" height="4" fill="#fff" />
<polygon points="414,110.5 470,110.5 471.5,112 471.5,168 470,169.5 414,169.5 412.5,168 412.5,112" fill="#000" stroke="none" stroke-width="1" />
<rect x="414" y="107" width="2" height="5" fill="#000" />
<rect x="414" y="168" width="2" height="5" fill="#000" />
<rect x="409" y="112" width="5" height="2" fill="#000" />
<rect x="470" y="112" width="5" height="2" fill="#000" />
<rect x="417" y="107" width="2" height="5" fill="#000" />
<rect x="417" y="168" width="2" height="5" fill="#000" />
<rect x="409" y="115" width="5" height="2" fill="#000" />
<rect x="470" y="115" width="5" height="2" fill="#000" />
<rect x="420" y="107" width="2" height="5" fill="#000" />
<rect x="420" y="168" width="2" height="5" fill="#000" />
<rect x="409" y="118" width="5" height="2" fill="#000" />
<rect x="470" y="118" width="5" height="2" fill="#000" />
<rect x="423" y="107" width="2" height="5" fill="#000" />
<rect x="423" y="168" width="2" height="5" fill="#000" />
<rect x="409" y="121" width="5" height="2" fill="#000" />
<rect x="470" y="121" width="5" height="2" fill="#000" />
<rect x="426" y="107" width="1" height="5" fill="#000" />
<rect x="426" y="168" width="1" height="5" fill="#000" />
<rect x="409" y="124" width="5" height="1" fill="#000" />
<rect x="470" y="124" width="5" height="1" fill="#000" />
<rect x="428" y="107" width="2" height="5" fill="#000" />
<rect x="428" y="168" width="2" height="5" fill="#000" />
<rect x="409" y="126" width="5" height="2" fill="#000" />
<rect x="470" y="126" width="5" height="2" fill="#000" />
<rect x="431" y="107" width="2" height="5" fill="#000" />
<rect x="431" y="168" width="2" height="5" fill="#000" />
<rect x="409" y="129" width="5" height="2" fill="#000" />
<rect x="470" y="129" width="5" height="2" fill="#000" />
<rect x="434" y="107" width="2" height="5" fill="#000" />
<rect x="434" y="168" width="2" height="5" fill="#000" />
<rect x="409" y="132" width="5" height="2" fill="#000" />
<rect x="470" y="132" width="5" height="2" fill="#000" />
<rect x="437" y="107" width="2" height="5" fill="#000" />
<rect x="437" y="168" width="2" height="5" fill="#000" />
<rect x="409" y="135" width="5" height="2" fill="#000" />
<rect x="470" y="135" width="5" height="2" fill="#000" />
<rect x="440" y="107" width="2" height="5" fill="#000" />
<rect x="440" y="168" width="2" height="5" fill="#000" />
<rect x="409" y="138" width="5" height="2" fill="#000" />
<rect x="470" y="138" width="5" height="2" fill="#000" />
<rect x="443" y="107" width="1" height="5" fill="#000" />
<rect x="443" y="168" width="1" height="5" fill="#000" />
<rect x="409" y="141" width="5" height="1" fill="#000" />
<rect x="470" y="141" width="5" height="1" fill="#000" />
<rect x="445" y="107" width="2" height="5" fill="#000" />
<rect x="445" y="168" width="2" height="5" fill="#000" />
<rect x="409" y="143" width="5" height="2" fill="#000" />
<rect x="470" y="143" width="5" height="2" fill="#000" />
<rect x="448" y="107" width="2" height="5" fill="#000" />
<rect x="448" y="168" width="2" height="5" fill="#000" />
<rect x="409" y="146" width="5" height="2" fill="#000" />
<rect x="470" y="146" width="5" height="2" fill="#000" />
<rect x="451" y="107" width="2" height="5" fill="#000" />
<rect x="451" y="168" width="2" height="5" fill="#000" />
<rect x="409" y="149" width="5" height="2" fill="#000" />
<rect x="470" y="149" width="5" height="2" fill="#000" />
<rect x="454" y="107" width="2" height="5" fill="#000" />
<rect x="454" y="168" width="2" height="5" fill="#000" />
<rect x="409" y="152" width="5" height="2" fill="#000" />
<rect x="470" y="152" width="5" height="2" fill="#000" />
<rect x="457" y="107" width="1" height="5" fill="#000" />
<rect x="457" y="168" width="1" height="5" fill="#000" />
<rect x="409" y="155" width="5" height="1" fill="#000" />
<rect x="470" y="155" width="5" height="1" fill="#000" />
<rect x="459" y="107" width="2" height="5" fill="#000" />
<rect x="459" y="168" width="2" height="5" fill="#000" />
<rect x="409" y="157" width="5" height="2" fill="#000" />
<rect x="470" y="157" width="5" height="2" fill="#000" />
<rect x="462" y="107" width="2" height="5" fill="#000" />
<rect x="462" y="168" width="2" height="5" fill="#000" />
<rect x="409" y="160" width="5" height="2" fill="#000" />
<rect x="470" y="160" width="5" height="2" fill="#000" />
<rect x="465" y="107" width="2" height="5" fill="#000" />
<rect x="465" y="168" width="2" height="5" fill="#000" />
<rect x="409" y="163" width="5" height="2" fill="#000" />
<rect x="470" y="163" width="5" height="2" fill="#000" />
<rect x="468" y="107" width="2" height="5" fill="#000" />
<rect x="468" y="168" width="2" height="5" fill="#000" />
<rect x="409" y="166" width="5" height="2" fill="#000" />
<rect x="470" y="166" width="5" height="2" fill="#000" />
<ellipse cx="418.5" cy="162.5" rx="2.4" ry="2" fill="#fff" shape-rendering="auto"/>
<polygon points="164,212.5 220,212.5 221.5,214 221.5,270 220,271.5 164,271.5 162.5,270 162.5,214" fill="#000" stroke="none" stroke-width="1" />
<rect x="164" y="209" width="2" height="5" fill="#000" />
<rect x="164" y="270" width="2" height="5" fill="#000" />
<rect x="159" y="214" width="5" height="2" fill="#000" />
<rect x="220" y="214" width="5" height="2" fill="#000" />
<rect x="167" y="209" width="2" height="5" fill="#000" />
<rect x="167" y="270" width="2" height="5" fill="#000" />
<rect x="159" y="217" width="5" height="2" fill="#000" />
<rect x="220" y="217" width="5" height="2" fill="#000" />
<rect x="170" y="209" width="2" height="5" fill="#000" />
<rect x="170" y="270" width="2" height="5" fill="#000" />
<rect x="159" y="220" width="5" height="2" fill="#000" />
<rect x="220" y="220" width="5" height="2" fill="#000" />
<rect x="173" y="209" width="2" height="5" fill="#000" />
<rect x="173" y="270" width="2" height="5" fill="#000" />
<rect x="159" y="223" width="5" height="2" fill="#000" />
<rect x="220" y="223" width="5" height="2" fill="#000" />
<rect x="176" y="209" width="1" height="5" fill="#000" />
<rect x="176" y="270" width="1" height="5" fill="#000" />
<rect x="159" y="226" width="5" height="1" fill="#000" />
<rect x="220" y="226" width="5" height="1" fill="#000" />
<rect x="178" y="209" width="2" height="5" fill="#000" />
<rect x="178" y="270" width="2" height="5" fill="#000" />
<rect x="159" y="228" width="5" height="2" fill="#000" />
<rect x="220" y="228" width="5" height="2" fill="#000" />
<rect x="181" y="209" width="2" height="5" fill="#000" />
<rect x="181" y="270" width="2" height="5" fill="#000" />
<rect x="159" y="231" width="5" height="2" fill="#000" />
<rect x="220" y="231" width="5" height="2" fill="#000" />
<rect x="184" y="209" width="2" height="5" fill="#000" />
<rect x="184" y="270" width="2" height="5" fill="#000" />
<rect x="159" y="234" width="5" height="2" fill="#000" />
<rect x="220" y="234" width="5" height="2" fill="#000" />
<rect x="187" y="209" width="2" height="5" fill="#000" />
<rect x="187" y="270" width="2" height="5" fill="#000" />
<rect x="159" y="237" width="5" height="2" fill="#000" />
<rect x="220" y="237" width="5" height="2" fill="#000" />
<rect x="190" y="209" width="2" height="5" fill="#000" />
<rect x="190" y="270" width="2" height="5" fill="#000" />
<rect x="159" y="240" width="5" height="2" fill="#000" />
<rect x="220" y="240" width="5" height="2" fill="#000" />
<rect x="193" y="209" width="1" height="5" fill="#000" />
<rect x="193" y="270" width="1" height="5" fill="#000" />
<rect x="159" y="243" width="5" height="1" fill="#000" />
<rect x="220" y="243" width="5" height="1" fill="#000" />
<rect x="195" y="209" width="2" height="5" fill="#000" />
<rect x="195" y="270" width="2" height="5" fill="#000" />
<rect x="159" y="245" width="5" height="2" fill="#000" />
<rect x="220" y="245" width="5" height="2" fill="#000" />
<rect x="198" y="209" width="2" height="5" fill="#000" />
<rect x="198" y="270" width="2" height="5" fill="#000" />
<rect x="159" y="248" width="5" height="2" fill="#000" />
<rect x="220" y="248" width="5" height="2" fill="#000" />
<rect x="201" y="209" width="2" height="5" fill="#000" />
<rect x="201" y="270" width="2" height="5" fill="#000" />
<rect x="159" y="251" width="5" height="2" fill="#000" />
<rect x="220" y="251" width="5" height="2" fill="#000" />
<rect x="204" y="209" width="2" height="5" fill="#000" />
<rect x="204" y="270" width="2" height="5" fill="#000" />
<rect x="159" y="254" width="5" height="2" fill="#000" />
<rect x="220" y="254" width="5" height="2" fill="#000" />
<rect x="207" y="209" width="1" height="5" fill="#000" />
<rect x="207" y="270" width="1" height="5" fill="#000" />
<rect x="159" y="257" width="5" height="1" fill="#000" />
<rect x="220" y="257" width="5" height="1" fill="#000" />
<rect x="209" y="209" width="2" height="5" fill="#000" />
<rect x="209" y="270" width="2" height="5" fill="#000" />
<rect x="159" y="259" width="5" height="2" fill="#000" />
<rect x="220" y="259" width="5" height="2" fill="#000" />
<rect x="212" y="209" width="2" height="5" fill="#000" />
<rect x="212" y="270" width="2" height="5" fill="#000" />
<rect x="159" y="262" width="5" height="2" fill="#000" />
<rect x="220" y="262" width="5" height="2" fill="#000" />
<rect x="215" y="209" width="2" height="5" fill="#000" />
<rect x="215" y="270" width="2" height="5" fill="#000" />
<rect x="159" y="265" width="5" height="2" fill="#000" />
<rect x="220" y="265" width="5" height="2" fill="#000" />
<rect x="218" y="209" width="2" height="5" fill="#000" />
<rect x="218" y="270" width="2" height="5" fill="#000" />
<rect x="159" y="268" width="5" height="2" fill="#000" />
<rect x="220" y="268" width="5" height="2" fill="#000" />
<ellipse cx="168.5" cy="265" rx="2.4" ry="2" fill="#fff" shape-rendering="auto"/>
<polygon points="334,212.5 390,212.5 391.5,214 391.5,270 390,271.5 334,271.5 332.5,270 332.5,214" fill="#000" stroke="none" stroke-width="1" />
<rect x="334" y="209" width="2" height="5" fill="#000" />
<rect x="334" y="270" width="2" height="5" fill="#000" />
<rect x="329" y="214" width="5" height="2" fill="#000" />
<rect x="390" y="214" width="5" height="2" fill="#000" />
<rect x="337" y="209" width="2" height="5" fill="#000" />
<rect x="337" y="270" width="2" height="5" fill="#000" />
<rect x="329" y="217" width="5" height="2" fill="#000" />
<rect x="390" y="217" width="5" height="2" fill="#000" />
<rect x="340" y="209" width="2" height="5" fill="#000" />
<rect x="340" y="270" width="2" height="5" fill="#000" />
<rect x="329" y="220" width="5" height="2" fill="#000" />
<rect x="390" y="220" width="5" height="2" fill="#000" />
<rect x="343" y="209" width="2" height="5" fill="#000" />
<rect x="343" y="270" width="2" height="5" fill="#000" />
<rect x="329" y="223" width="5" height="2" fill="#000" />
<rect x="390" y="223" width="5" height="2" fill="#000" />
<rect x="346" y="209" width="1" height="5" fill="#000" />
<rect x="346" y="270" width="1" height="5" fill="#000" />
<rect x="329" y="226" width="5" height="1" fill="#000" />
<rect x="390" y="226" width="5" height="1" fill="#000" />
<rect x="348" y="209" width="2" height="5" fill="#000" />
<rect x="348" y="270" width="2" height="5" fill="#000" />
<rect x="329" y="228" width="5" height="2" fill="#000" />
<rect x="390" y="228" width="5" height="2" fill="#000" />
<rect x="351" y="209" width="2" height="5" fill="#000" />
<rect x="351" y="270" width="2" height="5" fill="#000" />
<rect x="329" y="231" width="5" height="2" fill="#000" />
<rect x="390" y="231" width="5" height="2" fill="#000" />
<rect x="354" y="209" width="2" height="5" fill="#000" />
<rect x="354" y="270" width="2" height="5" fill="#000" />
<rect x="329" y="234" width="5" height="2" fill="#000" />
<rect x="390" y="234" width="5" height="2" fill="#000" />
<rect x="357" y="209" width="2" height="5" fill="#000" />
<rect x="357" y="270" width="2" height="5" fill="#000" />
<rect x="329" y="237" width="5" height="2" fill="#000" />
<rect x="390" y="237" width="5" height="2" fill="#000" />
<rect x="360" y="209" width="2" height="5" fill="#000" />
<rect x="360" y="270" width="2" height="5" fill="#000" />
<rect x="329" y="240" width="5" height="2" fill="#000" />
<rect x="390" y="240" width="5" height="2" fill="#000" />
<rect x="363" y="209" width="1" height="5" fill="#000" />
<rect x="363" y="270" width="1" height="5" fill="#000" />
<rect x="329" y="243" width="5" height="1" fill="#000" />
<rect x="390" y="243" width="5" height="1" fill="#000" />
<rect x="365" y="209" width="2" height="5" fill="#000" />
<rect x="365" y="270" width="2" height="5" fill="#000" />
<rect x="329" y="245" width="5" height="2" fill="#000" />
<rect x="390" y="245" width="5" height="2" fill="#000" />
<rect x="368" y="209" width="2" height="5" fill="#000" />
<rect x="368" y="270" width="2" height="5" fill="#000" />
<rect x="329" y="248" width="5" height="2" fill="#000" />
<rect x="390" y="248" width="5" height="2" fill="#000" />
<rect x="371" y="209" width="2" height="5" fill="#000" />
<rect x="371" y="270" width="2" height="5" fill="#000" />
<rect x="329" y="251" width="5" height="2" fill="#000" />
<rect x="390" y="251" width="5" height="2" fill="#000" />
<rect x="374" y="209" width="2" height="5" fill="#000" />
<rect x="374" y="270" width="2" height="5" fill="#000" />
<rect x="329" y="254" width="5" height="2" fill="#000" />
<rect x="390" y="254" width="5" height="2" fill="#000" />
<rect x="377" y="209" width="1" height="5" fill="#000" />
<rect x="377" y="270" width="1" height="5" fill="#000" />
<rect x="329" y="257" width="5" height="1" fill="#000" />
<rect x="390" y="257" width="5" height="1" fill="#000" />
<rect x="379" y="209" width="2" height="5" fill="#000" />
<rect x="379" y="270" width="2" height="5" fill="#000" />
<rect x="329" y="259" width="5" height="2" fill="#000" />
<rect x="390" y="259" width="5" height="2" fill="#000" />
<rect x="382" y="209" width="2" height="5" fill="#000" />
<rect x="382" y="270" width="2" height="5" fill="#000" />
<rect x="329" y="262" width="5" height="2" fill="#000" />
<rect x="390" y="262" width="5" height="2" fill="#000" />
<rect x="385" y="209" width="2" height="5" fill="#000" />
<rect x="385" y="270" width="2" height="5" fill="#000" />
<rect x="329" y="265" width="5" height="2" fill="#000" />
<rect x="390" y="265" width="5" height="2" fill="#000" />
<rect x="388" y="209" width="2" height="5" fill="#000" />
<rect x="388" y="270" width="2" height="5" fill="#000" />
<rect x="329" y="268" width="5" height="2" fill="#000" />
<rect x="390" y="268" width="5" height="2" fill="#000" />
<ellipse cx="385.5" cy="218" rx="2.4" ry="2" fill="#fff" shape-rendering="auto"/>
<polygon points="334,112 369,112 370,113 370,171 369,172 334,172 333,171 333,113" fill="#000" stroke="none" stroke-width="1" />
<rect x="336" y="109" width="32.5" height="4" fill="#000" />
<rect x="336" y="171" width="32.5" height="4" fill="#000" />
<rect x="330" y="113" width="4" height="58" fill="#000" />
<rect x="369" y="115" width="4" height="55.5" fill="#000" />
<rect x="339" y="109" width="1" height="3" fill="#fff" />
<rect x="346" y="109" width="1" height="3" fill="#fff" />
<rect x="349" y="109" width="1" height="3" fill="#fff" />
<rect x="352" y="109" width="1" height="3" fill="#fff" />
<rect x="364" y="109" width="1" height="3" fill="#fff" />
<rect x="340" y="172" width="1" height="3" fill="#fff" />
<rect x="343" y="172" width="1" height="3" fill="#fff" />
<rect x="346" y="172" width="1" height="3" fill="#fff" />
<rect x="353" y="172" width="1" height="3" fill="#fff" />
<rect x="357" y="172" width="1" height="3" fill="#fff" />
<rect x="360" y="172" width="1" height="3" fill="#fff" />
<rect x="365" y="172" width="1" height="3" fill="#fff" />
<rect x="330" y="117" width="3" height="1" fill="#fff" />
<rect x="330" y="126" width="3" height="1" fill="#fff" />
<rect x="330" y="128.5" width="3" height="1" fill="#fff" />
<rect x="330" y="131" width="3" height="1" fill="#fff" />
<rect x="330" y="143" width="3" height="1" fill="#fff" />
<rect x="330" y="145.5" width="3" height="1" fill="#fff" />
<rect x="330" y="148" width="3" height="1" fill="#fff" />
<rect x="330" y="160" width="3" height="1" fill="#fff" />
<rect x="330" y="162.5" width="3" height="1" fill="#fff" />
<rect x="330" y="165" width="3" height="1" fill="#fff" />
<rect x="370" y="117" width="3" height="1" fill="#fff" />
<rect x="370" y="120" width="3" height="1" fill="#fff" />
<rect x="370" y="123" width="3" height="1" fill="#fff" />
<rect x="370" y="134" width="3" height="1" fill="#fff" />
<rect x="370" y="137" width="3" height="1" fill="#fff" />
<rect x="370" y="140" width="3" height="1" fill="#fff" />
<rect x="370" y="151" width="3" height="1" fill="#fff" />
<rect x="370" y="154" width="3" height="1" fill="#fff" />
<rect x="370" y="157" width="3" height="1" fill="#fff" />
<rect x="370" y="167" width="3" height="1" fill="#fff" />
<ellipse cx="363" cy="165.5" rx="2.2" ry="2.2" fill="#fff" shape-rendering="auto"/>
<polygon points="572,216 607,216 608,217 608,275 607,276 572,276 571,275 571,217" fill="#000" stroke="none" stroke-width="1" />
<rect x="574" y="213" width="32.5" height="4" fill="#000" />
<rect x="574" y="275" width="32.5" height="4" fill="#000" />
<rect x="568" y="217" width="4" height="58" fill="#000" />
<rect x="607" y="219" width="4" height="55.5" fill="#000" />
<rect x="577" y="213" width="1" height="3" fill="#fff" />
<rect x="584" y="213" width="1" height="3" fill="#fff" />
<rect x="587" y="213" width="1" height="3" fill="#fff" />
<rect x="590" y="213" width="1" height="3" fill="#fff" />
<rect x="602" y="213" width="1" height="3" fill="#fff" />
<rect x="578" y="276" width="1" height="3" fill="#fff" />
<rect x="581" y="276" width="1" height="3" fill="#fff" />
<rect x="584" y="276" width="1" height="3" fill="#fff" />
<rect x="591" y="276" width="1" height="3" fill="#fff" />
<rect x="595" y="276" width="1" height="3" fill="#fff" />
<rect x="598" y="276" width="1" height="3" fill="#fff" />
<rect x="603" y="276" width="1" height="3" fill="#fff" />
<rect x="568" y="221" width="3" height="1" fill="#fff" />
<rect x="568" y="230" width="3" height="1" fill="#fff" />
<rect x="568" y="232.5" width="3" height="1" fill="#fff" />
<rect x="568" y="235" width="3" height="1" fill="#fff" />
<rect x="568" y="247" width="3" height="1" fill="#fff" />
<rect x="568" y="249.5" width="3" height="1" fill="#fff" />
<rect x="568" y="252" width="3" height="1" fill="#fff" />
<rect x="568" y="264" width="3" height="1" fill="#fff" />
<rect x="568" y="266.5" width="3" height="1" fill="#fff" />
<rect x="568" y="269" width="3" height="1" fill="#fff" />
<rect x="608" y="221" width="3" height="1" fill="#fff" />
<rect x="608" y="224" width="3" height="1" fill="#fff" />
<rect x="608" y="227" width="3" height="1" fill="#fff" />
<rect x="608" y="238" width="3" height="1" fill="#fff" />
<rect x="608" y="241" width="3" height="1" fill="#fff" />
<rect x="608" y="244" width="3" height="1" fill="#fff" />
<rect x="608" y="255" width="3" height="1" fill="#fff" />
<rect x="608" y="258" width="3" height="1" fill="#fff" />
<rect x="608" y="261" width="3" height="1" fill="#fff" />
<rect x="608" y="271" width="3" height="1" fill="#fff" />
<ellipse cx="577.5" cy="222.8" rx="2.2" ry="2.2" fill="#fff" shape-rendering="auto"/>
<polygon points="428,133 455.8,133 457,134.2 457,145.8 455.8,147 428,147" fill="#fff" stroke="none" stroke-width="1" />
<text transform="translate(428.60,145.9) scale(0.68,1)" font-size="14" fill="#000" stroke="#000" stroke-width="0.22" >V</text>
<text transform="translate(437.52,145.9) scale(0.68,1)" font-size="14" fill="#000" stroke="#000" stroke-width="0.22" >P</text>
<text transform="translate(446.45,145.9) scale(0.68,1)" font-size="14" fill="#000" stroke="#000" stroke-width="0.22" >U</text>
<rect x="532" y="68.7" width="65" height="25.5" fill="#000" />
<rect x="538.5" y="79.2" width="54.5" height="5.5" fill="#fff" />
<rect x="534.6" y="71" width="3.6" height="4.7" fill="#fff" />
<rect x="534.6" y="87.2" width="3.6" height="4.7" fill="#fff" />
<rect x="540.4" y="71" width="3.6" height="4.7" fill="#fff" />
<rect x="540.4" y="87.2" width="3.6" height="4.7" fill="#fff" />
<rect x="546.2" y="71" width="3.6" height="4.7" fill="#fff" />
<rect x="546.2" y="87.2" width="3.6" height="4.7" fill="#fff" />
<rect x="552" y="71" width="3.6" height="4.7" fill="#fff" />
<rect x="552" y="87.2" width="3.6" height="4.7" fill="#fff" />
<rect x="557.8" y="71" width="3.6" height="4.7" fill="#fff" />
<rect x="557.8" y="87.2" width="3.6" height="4.7" fill="#fff" />
<rect x="563.6" y="71" width="3.6" height="4.7" fill="#fff" />
<rect x="563.6" y="87.2" width="3.6" height="4.7" fill="#fff" />
<rect x="569.4" y="71" width="3.6" height="4.7" fill="#fff" />
<rect x="569.4" y="87.2" width="3.6" height="4.7" fill="#fff" />
<rect x="575.2" y="71" width="3.6" height="4.7" fill="#fff" />
<rect x="575.2" y="87.2" width="3.6" height="4.7" fill="#fff" />
<rect x="581" y="71" width="3.6" height="4.7" fill="#fff" />
<rect x="581" y="87.2" width="3.6" height="4.7" fill="#fff" />
<rect x="586.8" y="71" width="3.6" height="4.7" fill="#fff" />
<rect x="586.8" y="87.2" width="3.6" height="4.7" fill="#fff" />
<rect x="592.6" y="71" width="3.6" height="4.7" fill="#fff" />
<rect x="592.6" y="87.2" width="3.6" height="4.7" fill="#fff" />
<circle cx="532" cy="81.4" r="2.2" fill="#fff" shape-rendering="auto"/>
<rect x="532" y="103" width="65" height="25.5" fill="#000" />
<rect x="538.5" y="113.5" width="54.5" height="5.5" fill="#fff" />
<rect x="534.6" y="105.3" width="3.6" height="4.7" fill="#fff" />
<rect x="534.6" y="121.5" width="3.6" height="4.7" fill="#fff" />
<rect x="540.4" y="105.3" width="3.6" height="4.7" fill="#fff" />
<rect x="540.4" y="121.5" width="3.6" height="4.7" fill="#fff" />
<rect x="546.2" y="105.3" width="3.6" height="4.7" fill="#fff" />
<rect x="546.2" y="121.5" width="3.6" height="4.7" fill="#fff" />
<rect x="552" y="105.3" width="3.6" height="4.7" fill="#fff" />
<rect x="552" y="121.5" width="3.6" height="4.7" fill="#fff" />
<rect x="557.8" y="105.3" width="3.6" height="4.7" fill="#fff" />
<rect x="557.8" y="121.5" width="3.6" height="4.7" fill="#fff" />
<rect x="563.6" y="105.3" width="3.6" height="4.7" fill="#fff" />
<rect x="563.6" y="121.5" width="3.6" height="4.7" fill="#fff" />
<rect x="569.4" y="105.3" width="3.6" height="4.7" fill="#fff" />
<rect x="569.4" y="121.5" width="3.6" height="4.7" fill="#fff" />
<rect x="575.2" y="105.3" width="3.6" height="4.7" fill="#fff" />
<rect x="575.2" y="121.5" width="3.6" height="4.7" fill="#fff" />
<rect x="581" y="105.3" width="3.6" height="4.7" fill="#fff" />
<rect x="581" y="121.5" width="3.6" height="4.7" fill="#fff" />
<rect x="586.8" y="105.3" width="3.6" height="4.7" fill="#fff" />
<rect x="586.8" y="121.5" width="3.6" height="4.7" fill="#fff" />
<rect x="592.6" y="105.3" width="3.6" height="4.7" fill="#fff" />
<rect x="592.6" y="121.5" width="3.6" height="4.7" fill="#fff" />
<circle cx="532" cy="115.7" r="2.2" fill="#fff" shape-rendering="auto"/>
<rect x="531" y="141.7" width="67" height="25.3" fill="#000" />
<rect x="532.2" y="142.8" width="2.1" height="2" fill="#fff" />
<rect x="532.2" y="164.5" width="2.1" height="1.5" fill="#fff" />
<rect x="536.3" y="142.8" width="2.1" height="2" fill="#fff" />
<rect x="536.3" y="164.5" width="2.1" height="1.5" fill="#fff" />
<rect x="540.4" y="142.8" width="2.1" height="2" fill="#fff" />
<rect x="540.4" y="164.5" width="2.1" height="1.5" fill="#fff" />
<rect x="544.5" y="142.8" width="2.1" height="2" fill="#fff" />
<rect x="544.5" y="164.5" width="2.1" height="1.5" fill="#fff" />
<rect x="548.6" y="142.8" width="2.1" height="2" fill="#fff" />
<rect x="548.6" y="164.5" width="2.1" height="1.5" fill="#fff" />
<rect x="552.7" y="142.8" width="2.1" height="2" fill="#fff" />
<rect x="552.7" y="164.5" width="2.1" height="1.5" fill="#fff" />
<rect x="556.8" y="142.8" width="2.1" height="2" fill="#fff" />
<rect x="556.8" y="164.5" width="2.1" height="1.5" fill="#fff" />
<rect x="560.9" y="142.8" width="2.1" height="2" fill="#fff" />
<rect x="560.9" y="164.5" width="2.1" height="1.5" fill="#fff" />
<rect x="565" y="142.8" width="2.1" height="2" fill="#fff" />
<rect x="565" y="164.5" width="2.1" height="1.5" fill="#fff" />
<rect x="569.1" y="142.8" width="2.1" height="2" fill="#fff" />
<rect x="569.1" y="164.5" width="2.1" height="1.5" fill="#fff" />
<rect x="573.2" y="142.8" width="2.1" height="2" fill="#fff" />
<rect x="573.2" y="164.5" width="2.1" height="1.5" fill="#fff" />
<rect x="577.3" y="142.8" width="2.1" height="2" fill="#fff" />
<rect x="577.3" y="164.5" width="2.1" height="1.5" fill="#fff" />
<rect x="581.4" y="142.8" width="2.1" height="2" fill="#fff" />
<rect x="581.4" y="164.5" width="2.1" height="1.5" fill="#fff" />
<rect x="585.5" y="142.8" width="2.1" height="2" fill="#fff" />
<rect x="585.5" y="164.5" width="2.1" height="1.5" fill="#fff" />
<rect x="589.6" y="142.8" width="2.1" height="2" fill="#fff" />
<rect x="589.6" y="164.5" width="2.1" height="1.5" fill="#fff" />
<rect x="593.7" y="142.8" width="2.1" height="2" fill="#fff" />
<rect x="593.7" y="164.5" width="2.1" height="1.5" fill="#fff" />
<polygon points="531,151.7 533.5,151.7 535,153.2 535,155.2 533.5,156.7 531,156.7" fill="#fff" stroke="none" stroke-width="1" />
<rect x="531" y="176" width="67" height="25.3" fill="#000" />
<rect x="532.2" y="177.1" width="2.1" height="2" fill="#fff" />
<rect x="532.2" y="198.8" width="2.1" height="1.5" fill="#fff" />
<rect x="536.3" y="177.1" width="2.1" height="2" fill="#fff" />
<rect x="536.3" y="198.8" width="2.1" height="1.5" fill="#fff" />
<rect x="540.4" y="177.1" width="2.1" height="2" fill="#fff" />
<rect x="540.4" y="198.8" width="2.1" height="1.5" fill="#fff" />
<rect x="544.5" y="177.1" width="2.1" height="2" fill="#fff" />
<rect x="544.5" y="198.8" width="2.1" height="1.5" fill="#fff" />
<rect x="548.6" y="177.1" width="2.1" height="2" fill="#fff" />
<rect x="548.6" y="198.8" width="2.1" height="1.5" fill="#fff" />
<rect x="552.7" y="177.1" width="2.1" height="2" fill="#fff" />
<rect x="552.7" y="198.8" width="2.1" height="1.5" fill="#fff" />
<rect x="556.8" y="177.1" width="2.1" height="2" fill="#fff" />
<rect x="556.8" y="198.8" width="2.1" height="1.5" fill="#fff" />
<rect x="560.9" y="177.1" width="2.1" height="2" fill="#fff" />
<rect x="560.9" y="198.8" width="2.1" height="1.5" fill="#fff" />
<rect x="565" y="177.1" width="2.1" height="2" fill="#fff" />
<rect x="565" y="198.8" width="2.1" height="1.5" fill="#fff" />
<rect x="569.1" y="177.1" width="2.1" height="2" fill="#fff" />
<rect x="569.1" y="198.8" width="2.1" height="1.5" fill="#fff" />
<rect x="573.2" y="177.1" width="2.1" height="2" fill="#fff" />
<rect x="573.2" y="198.8" width="2.1" height="1.5" fill="#fff" />
<rect x="577.3" y="177.1" width="2.1" height="2" fill="#fff" />
<rect x="577.3" y="198.8" width="2.1" height="1.5" fill="#fff" />
<rect x="581.4" y="177.1" width="2.1" height="2" fill="#fff" />
<rect x="581.4" y="198.8" width="2.1" height="1.5" fill="#fff" />
<rect x="585.5" y="177.1" width="2.1" height="2" fill="#fff" />
<rect x="585.5" y="198.8" width="2.1" height="1.5" fill="#fff" />
<rect x="589.6" y="177.1" width="2.1" height="2" fill="#fff" />
<rect x="589.6" y="198.8" width="2.1" height="1.5" fill="#fff" />
<rect x="593.7" y="177.1" width="2.1" height="2" fill="#fff" />
<rect x="593.7" y="198.8" width="2.1" height="1.5" fill="#fff" />
<polygon points="531,186 533.5,186 535,187.5 535,189.5 533.5,191 531,191" fill="#fff" stroke="none" stroke-width="1" />
<polygon points="558.5,59.5 571.2,59.5 574.2,62.5 574.2,132.5 571.2,135.5 558.5,135.5 555.5,132.5 555.5,62.5" fill="#000" stroke="none" stroke-width="1" />
<polygon points="558.7,62.5 570.6,62.5 571.6,63.5 571.6,132.5 570.6,133.5 558.7,133.5 557.7,132.5 557.7,63.5" fill="#fff" stroke="none" stroke-width="1" />
<text transform="translate(560.70,73.5) scale(0.68,1)" font-size="14" fill="#000" stroke="#000" stroke-width="0.22" >B</text>
<text transform="translate(560.30,88.3) scale(0.68,1)" font-size="14" fill="#000" stroke="#000" stroke-width="0.22" >A</text>
<text transform="translate(560.70,103.3) scale(0.68,1)" font-size="14" fill="#000" stroke="#000" stroke-width="0.22" >N</text>
<text transform="translate(560.70,118.3) scale(0.68,1)" font-size="14" fill="#000" stroke="#000" stroke-width="0.22" >K</text>
<path d="M562.70 122.40 h1.05 v9.90 h-1.05 v-6.60 h-2.00 v-1.05 h2.00 z" fill="#000" shape-rendering="auto"/>
<polygon points="559,135 571,135 574,138 574,204 571,207 559,207 556,204 556,138" fill="#000" stroke="none" stroke-width="1" />
<polygon points="559,137 571,137 572,138 572,204 571,205 559,205 558,204 558,138" fill="#fff" stroke="none" stroke-width="1" />
<text transform="translate(560.70,149.3) scale(0.68,1)" font-size="14" fill="#000" stroke="#000" stroke-width="0.22" >B</text>
<text transform="translate(560.30,163.3) scale(0.68,1)" font-size="14" fill="#000" stroke="#000" stroke-width="0.22" >A</text>
<text transform="translate(560.70,177.7) scale(0.68,1)" font-size="14" fill="#000" stroke="#000" stroke-width="0.22" >N</text>
<text transform="translate(560.70,191.7) scale(0.68,1)" font-size="14" fill="#000" stroke="#000" stroke-width="0.22" >K</text>
<text transform="translate(560.70,204.5) scale(0.68,1)" font-size="14" fill="#000" stroke="#000" stroke-width="0.22" >0</text>
<polyline points="596,57.5 603.5,62.5 603.5,128.5 611,134.3 603.5,140 603.5,204 598,208.5" fill="none" stroke="#000" stroke-width="1" shape-rendering="auto"/>
<polygon points="615,103 626,103 629,106 629,161 626,164 615,164 612,161 612,106" fill="#000" stroke="none" stroke-width="1" />
<polygon points="615,105 626,105 627,106 627,161 626,162 615,162 614,161 614,106" fill="#fff" stroke="none" stroke-width="1" />
<text transform="translate(616.50,115) scale(0.68,1)" font-size="14" fill="#000" stroke="#000" stroke-width="0.22" >V</text>
<text transform="translate(616.50,130) scale(0.68,1)" font-size="14" fill="#000" stroke="#000" stroke-width="0.22" >R</text>
<text transform="translate(616.10,145) scale(0.68,1)" font-size="14" fill="#000" stroke="#000" stroke-width="0.22" >A</text>
<text transform="translate(616.50,160.5) scale(0.68,1)" font-size="14" fill="#000" stroke="#000" stroke-width="0.22" >M</text>
<rect x="174" y="314" width="48" height="20" fill="#000" />
<rect x="175" y="315" width="46" height="18" fill="#fff" />
<rect x="181" y="320" width="34" height="8" fill="#000" />
<rect x="182" y="321" width="32" height="6" fill="#fff" />
<rect x="223" y="314" width="241" height="20" fill="#000" />
<rect x="224" y="315" width="239" height="18" fill="#fff" />
<rect x="230" y="320" width="227" height="8" fill="#000" />
<rect x="231" y="321" width="225" height="6" fill="#fff" />
<rect x="465" y="314" width="173" height="20" fill="#000" />
<rect x="466" y="315" width="171" height="18" fill="#fff" />
<rect x="472" y="320" width="159" height="8" fill="#000" />
<rect x="473" y="321" width="157" height="6" fill="#fff" />
<rect x="388" y="315" width="35" height="18" fill="#fff" />
<polygon points="391,314 420,314 422,316 422,331 420,333 391,333 389,331 389,316" fill="#000" stroke="none" stroke-width="1" />
<polygon points="392,317 419,317 420,318 420,330 419,331 392,331 391,330 391,318" fill="#fff" stroke="none" stroke-width="1" />
<text transform="translate(395.00,327.8) scale(0.68,1)" font-size="14" fill="#000" stroke="#000" stroke-width="0.22" >S</text>
<text transform="translate(404.08,327.8) scale(0.68,1)" font-size="14" fill="#000" stroke="#000" stroke-width="0.22" >L</text>
<path d="M414.10 317.90 h1.05 v9.90 h-1.05 v-6.60 h-2.00 v-1.05 h2.00 z" fill="#000" shape-rendering="auto"/>
<path d="M535.5 281.5 V305 Q535.5 307.5 538 307.5 H552 Q554.5 307.5 554.5 305 V281.5" fill="#fff" stroke="#000" stroke-width="1"/>
<rect x="534" y="280.2" width="22" height="1.8" fill="#000" />
<rect x="538" y="275" width="1" height="6" fill="#000" />
<rect x="552" y="275" width="1" height="6" fill="#000" />
<rect x="500" y="341" width="78" height="12" fill="#000" />
<rect x="502" y="342.4" width="74.5" height="9.2" fill="#fff" />
<polyline points="502,342.7 505.5,346.3" fill="none" stroke="#000" stroke-width="1" shape-rendering="geometricPrecision"/>
<polyline points="502,351.3 505.3,348" fill="none" stroke="#000" stroke-width="1" shape-rendering="geometricPrecision"/>
<polyline points="576.5,342.7 572.5,346.3" fill="none" stroke="#000" stroke-width="1" shape-rendering="geometricPrecision"/>
<polyline points="576.5,351.3 572.7,348" fill="none" stroke="#000" stroke-width="1" shape-rendering="geometricPrecision"/>
<polygon points="505.8,343.5 572.2,343.5 569.5,350.4 508.5,350.4" fill="#fff" stroke="#000" stroke-width="1" shape-rendering="geometricPrecision"/>
<rect x="508.3" y="344.5" width="61.4" height="4.4" fill="#000" />
<rect x="509.6" y="346.7" width="1" height="0.9" fill="#fff" shape-rendering="geometricPrecision"/>
<rect x="510.55" y="345.2" width="0.9" height="0.8" fill="#fff" shape-rendering="geometricPrecision"/>
<rect x="511.5" y="346.7" width="1" height="0.9" fill="#fff" shape-rendering="geometricPrecision"/>
<rect x="512.45" y="345.2" width="0.9" height="0.8" fill="#fff" shape-rendering="geometricPrecision"/>
<rect x="513.4" y="346.7" width="1" height="0.9" fill="#fff" shape-rendering="geometricPrecision"/>
<rect x="514.35" y="345.2" width="0.9" height="0.8" fill="#fff" shape-rendering="geometricPrecision"/>
<rect x="515.3" y="346.7" width="1" height="0.9" fill="#fff" shape-rendering="geometricPrecision"/>
<rect x="516.25" y="345.2" width="0.9" height="0.8" fill="#fff" shape-rendering="geometricPrecision"/>
<rect x="517.2" y="346.7" width="1" height="0.9" fill="#fff" shape-rendering="geometricPrecision"/>
<rect x="518.15" y="345.2" width="0.9" height="0.8" fill="#fff" shape-rendering="geometricPrecision"/>
<rect x="519.1" y="346.7" width="1" height="0.9" fill="#fff" shape-rendering="geometricPrecision"/>
<rect x="520.05" y="345.2" width="0.9" height="0.8" fill="#fff" shape-rendering="geometricPrecision"/>
<rect x="521" y="346.7" width="1" height="0.9" fill="#fff" shape-rendering="geometricPrecision"/>
<rect x="521.95" y="345.2" width="0.9" height="0.8" fill="#fff" shape-rendering="geometricPrecision"/>
<rect x="522.9" y="346.7" width="1" height="0.9" fill="#fff" shape-rendering="geometricPrecision"/>
<rect x="523.85" y="345.2" width="0.9" height="0.8" fill="#fff" shape-rendering="geometricPrecision"/>
<rect x="524.8" y="346.7" width="1" height="0.9" fill="#fff" shape-rendering="geometricPrecision"/>
<rect x="525.75" y="345.2" width="0.9" height="0.8" fill="#fff" shape-rendering="geometricPrecision"/>
<rect x="526.7" y="346.7" width="1" height="0.9" fill="#fff" shape-rendering="geometricPrecision"/>
<rect x="527.65" y="345.2" width="0.9" height="0.8" fill="#fff" shape-rendering="geometricPrecision"/>
<rect x="528.6" y="346.7" width="1" height="0.9" fill="#fff" shape-rendering="geometricPrecision"/>
<rect x="529.55" y="345.2" width="0.9" height="0.8" fill="#fff" shape-rendering="geometricPrecision"/>
<rect x="530.5" y="346.7" width="1" height="0.9" fill="#fff" shape-rendering="geometricPrecision"/>
<rect x="531.45" y="345.2" width="0.9" height="0.8" fill="#fff" shape-rendering="geometricPrecision"/>
<rect x="532.4" y="346.7" width="1" height="0.9" fill="#fff" shape-rendering="geometricPrecision"/>
<rect x="533.35" y="345.2" width="0.9" height="0.8" fill="#fff" shape-rendering="geometricPrecision"/>
<rect x="534.3" y="346.7" width="1" height="0.9" fill="#fff" shape-rendering="geometricPrecision"/>
<rect x="535.25" y="345.2" width="0.9" height="0.8" fill="#fff" shape-rendering="geometricPrecision"/>
<rect x="536.2" y="346.7" width="1" height="0.9" fill="#fff" shape-rendering="geometricPrecision"/>
<rect x="537.15" y="345.2" width="0.9" height="0.8" fill="#fff" shape-rendering="geometricPrecision"/>
<rect x="538.1" y="346.7" width="1" height="0.9" fill="#fff" shape-rendering="geometricPrecision"/>
<rect x="539.05" y="345.2" width="0.9" height="0.8" fill="#fff" shape-rendering="geometricPrecision"/>
<rect x="540" y="346.7" width="1" height="0.9" fill="#fff" shape-rendering="geometricPrecision"/>
<rect x="540.95" y="345.2" width="0.9" height="0.8" fill="#fff" shape-rendering="geometricPrecision"/>
<rect x="541.9" y="346.7" width="1" height="0.9" fill="#fff" shape-rendering="geometricPrecision"/>
<rect x="542.85" y="345.2" width="0.9" height="0.8" fill="#fff" shape-rendering="geometricPrecision"/>
<rect x="543.8" y="346.7" width="1" height="0.9" fill="#fff" shape-rendering="geometricPrecision"/>
<rect x="544.75" y="345.2" width="0.9" height="0.8" fill="#fff" shape-rendering="geometricPrecision"/>
<rect x="545.7" y="346.7" width="1" height="0.9" fill="#fff" shape-rendering="geometricPrecision"/>
<rect x="546.65" y="345.2" width="0.9" height="0.8" fill="#fff" shape-rendering="geometricPrecision"/>
<rect x="547.6" y="346.7" width="1" height="0.9" fill="#fff" shape-rendering="geometricPrecision"/>
<rect x="548.55" y="345.2" width="0.9" height="0.8" fill="#fff" shape-rendering="geometricPrecision"/>
<rect x="549.5" y="346.7" width="1" height="0.9" fill="#fff" shape-rendering="geometricPrecision"/>
<rect x="550.45" y="345.2" width="0.9" height="0.8" fill="#fff" shape-rendering="geometricPrecision"/>
<rect x="551.4" y="346.7" width="1" height="0.9" fill="#fff" shape-rendering="geometricPrecision"/>
<rect x="552.35" y="345.2" width="0.9" height="0.8" fill="#fff" shape-rendering="geometricPrecision"/>
<rect x="553.3" y="346.7" width="1" height="0.9" fill="#fff" shape-rendering="geometricPrecision"/>
<rect x="554.25" y="345.2" width="0.9" height="0.8" fill="#fff" shape-rendering="geometricPrecision"/>
<rect x="555.2" y="346.7" width="1" height="0.9" fill="#fff" shape-rendering="geometricPrecision"/>
<rect x="556.15" y="345.2" width="0.9" height="0.8" fill="#fff" shape-rendering="geometricPrecision"/>
<rect x="557.1" y="346.7" width="1" height="0.9" fill="#fff" shape-rendering="geometricPrecision"/>
<rect x="558.05" y="345.2" width="0.9" height="0.8" fill="#fff" shape-rendering="geometricPrecision"/>
<rect x="559" y="346.7" width="1" height="0.9" fill="#fff" shape-rendering="geometricPrecision"/>
<rect x="559.95" y="345.2" width="0.9" height="0.8" fill="#fff" shape-rendering="geometricPrecision"/>
<rect x="560.9" y="346.7" width="1" height="0.9" fill="#fff" shape-rendering="geometricPrecision"/>
<rect x="561.85" y="345.2" width="0.9" height="0.8" fill="#fff" shape-rendering="geometricPrecision"/>
<rect x="562.8" y="346.7" width="1" height="0.9" fill="#fff" shape-rendering="geometricPrecision"/>
<rect x="563.75" y="345.2" width="0.9" height="0.8" fill="#fff" shape-rendering="geometricPrecision"/>
<rect x="564.7" y="346.7" width="1" height="0.9" fill="#fff" shape-rendering="geometricPrecision"/>
<rect x="565.65" y="345.2" width="0.9" height="0.8" fill="#fff" shape-rendering="geometricPrecision"/>
<rect x="566.6" y="346.7" width="1" height="0.9" fill="#fff" shape-rendering="geometricPrecision"/>
<rect x="567.55" y="345.2" width="0.9" height="0.8" fill="#fff" shape-rendering="geometricPrecision"/>
<rect x="568.5" y="346.7" width="1" height="0.9" fill="#fff" shape-rendering="geometricPrecision"/>
<rect x="569.45" y="345.2" width="0.9" height="0.8" fill="#fff" shape-rendering="geometricPrecision"/>
<polygon points="504,358 535,358 537,360 537,375 535,377 504,377 502,375 502,360" fill="#000" stroke="none" stroke-width="1" />
<polygon points="505,360 533,360 534,361 534,373 533,374 505,374 504,373 504,361" fill="#fff" stroke="none" stroke-width="1" />
<text transform="translate(507.80,371.6) scale(0.68,1)" font-size="14" fill="#000" stroke="#000" stroke-width="0.22" >J</text>
<path d="M517.89 361.70 h1.05 v9.90 h-1.05 v-6.60 h-2.00 v-1.05 h2.00 z" fill="#000" shape-rendering="auto"/>
<text transform="translate(523.32,371.6) scale(0.68,1)" font-size="14" fill="#000" stroke="#000" stroke-width="0.22" >3</text>
<polygon points="528,359.5 541,351.5 543.5,352.5 536,364" fill="#000" stroke="none" stroke-width="1" />
<polygon points="530,361.5 534.5,361.5 538.5,355.5 534,358" fill="#fff" stroke="none" stroke-width="1" />
<rect x="519" y="384" width="61" height="60" fill="#000" />
<rect x="527" y="386" width="1.8" height="4.5" fill="#fff" />
<rect x="530.3" y="386" width="7.7" height="4.5" fill="#fff" />
<rect x="539" y="386" width="10.2" height="4.5" fill="#fff" />
<rect x="550.4" y="386" width="7.8" height="4.5" fill="#fff" />
<rect x="559.4" y="386" width="7.6" height="4.5" fill="#fff" />
<rect x="568.1" y="386" width="3.7" height="4.5" fill="#fff" />
<rect x="527.5" y="437" width="1.3" height="5" fill="#fff" />
<rect x="529.8" y="437" width="19" height="5" fill="#fff" />
<rect x="550" y="437" width="8" height="5" fill="#fff" />
<rect x="559" y="437" width="8" height="5" fill="#fff" />
<rect x="568" y="437" width="3.8" height="5" fill="#fff" />
<rect x="521" y="392" width="5.5" height="9.8" fill="#fff" />
<rect x="521" y="403" width="5.5" height="19.2" fill="#fff" />
<rect x="521" y="423.2" width="5.5" height="7.8" fill="#fff" />
<rect x="521" y="432" width="5.5" height="4" fill="#fff" />
<rect x="572.5" y="392" width="5.5" height="8.4" fill="#fff" />
<rect x="572.5" y="401.8" width="5.5" height="9.5" fill="#fff" />
<rect x="572.5" y="412.3" width="5.5" height="5.8" fill="#fff" />
<rect x="572.5" y="419" width="5.5" height="17" fill="#fff" />
<polygon points="526.5,390.5 528.5,390.5 526.5,392.5" fill="#fff" stroke="none" stroke-width="1" />
<polygon points="572.5,390.5 570.5,390.5 572.5,392.5" fill="#fff" stroke="none" stroke-width="1" />
<polygon points="526.5,437 528.5,437 526.5,435" fill="#fff" stroke="none" stroke-width="1" />
<polygon points="572.5,437 570.5,437 572.5,435" fill="#fff" stroke="none" stroke-width="1" />
<path d="M547 393.8 h5.2 v1.8 q-2.6 4.2 -5.2 0 z" fill="#fff" shape-rendering="auto"/>
<rect x="531" y="407" width="37" height="14" fill="#fff" />
<text transform="translate(534.80,417.7) scale(0.68,1)" font-size="14" fill="#000" stroke="#000" stroke-width="0.22" >B</text>
<text transform="translate(543.07,417.7) scale(0.68,1)" font-size="14" fill="#000" stroke="#000" stroke-width="0.22" >I</text>
<text transform="translate(547.64,417.7) scale(0.68,1)" font-size="14" fill="#000" stroke="#000" stroke-width="0.22" >O</text>
<text transform="translate(556.97,417.7) scale(0.68,1)" font-size="14" fill="#000" stroke="#000" stroke-width="0.22" >S</text>
<rect x="23" y="376" width="10" height="28" fill="#000" />
<rect x="24" y="377" width="8" height="26" fill="#fff" />
<rect x="25" y="379" width="6" height="4.4" fill="#000" />
<rect x="25" y="384.6" width="6" height="4.4" fill="#000" />
<rect x="25" y="390.2" width="6" height="4.4" fill="#000" />
<rect x="25" y="395.8" width="6" height="4.4" fill="#000" />
<polygon points="48,380 70,380 72,382 72,397 70,399 48,399 46,397 46,382" fill="#000" stroke="none" stroke-width="1" />
<polygon points="49,382 69,382 70,383 70,396 69,397 49,397 48,396 48,383" fill="#fff" stroke="none" stroke-width="1" />
<text transform="translate(53.80,394) scale(0.68,1)" font-size="14" fill="#000" stroke="#000" stroke-width="0.22" >J</text>
<text transform="translate(59.92,394) scale(0.68,1)" font-size="14" fill="#000" stroke="#000" stroke-width="0.22" >7</text>
<polygon points="46.5,385.7 44.4,386.2 43.7,387 39.5,387.2 38.8,387.3 35.86,387.4 35.58,388.25 32.5,388.25 32.5,390.75 35.58,390.75 35.86,391.6 38.8,391.7 39.5,391.8 43.7,392 44.4,392.8 46.5,393.3" fill="#000" stroke="none" stroke-width="1" shape-rendering="geometricPrecision"/>
<polygon points="48.7,387.7 45.1,387.9 44.12,388.9 40.62,389 40.62,390 44.12,390.1 45.1,391.1 48.7,391.3" fill="#fff" stroke="none" stroke-width="1" shape-rendering="geometricPrecision"/>
<rect x="81" y="411" width="89" height="42" fill="#000" />
<rect x="83.3" y="413" width="3.9" height="5" fill="#fff" />
<rect x="83.3" y="446" width="3.9" height="5" fill="#fff" />
<rect x="89.52" y="413" width="3.9" height="5" fill="#fff" />
<rect x="89.52" y="446" width="3.9" height="5" fill="#fff" />
<rect x="95.74" y="413" width="3.9" height="5" fill="#fff" />
<rect x="95.74" y="446" width="3.9" height="5" fill="#fff" />
<rect x="101.96" y="413" width="3.9" height="5" fill="#fff" />
<rect x="101.96" y="446" width="3.9" height="5" fill="#fff" />
<rect x="108.18" y="413" width="3.9" height="5" fill="#fff" />
<rect x="108.18" y="446" width="3.9" height="5" fill="#fff" />
<rect x="114.4" y="413" width="3.9" height="5" fill="#fff" />
<rect x="114.4" y="446" width="3.9" height="5" fill="#fff" />
<rect x="120.62" y="413" width="3.9" height="5" fill="#fff" />
<rect x="120.62" y="446" width="3.9" height="5" fill="#fff" />
<rect x="126.84" y="413" width="3.9" height="5" fill="#fff" />
<rect x="126.84" y="446" width="3.9" height="5" fill="#fff" />
<rect x="133.06" y="413" width="3.9" height="5" fill="#fff" />
<rect x="133.06" y="446" width="3.9" height="5" fill="#fff" />
<rect x="139.28" y="413" width="3.9" height="5" fill="#fff" />
<rect x="139.28" y="446" width="3.9" height="5" fill="#fff" />
<rect x="145.5" y="413" width="3.9" height="5" fill="#fff" />
<rect x="145.5" y="446" width="3.9" height="5" fill="#fff" />
<rect x="151.72" y="413" width="3.9" height="5" fill="#fff" />
<rect x="151.72" y="446" width="3.9" height="5" fill="#fff" />
<rect x="157.94" y="413" width="3.9" height="5" fill="#fff" />
<rect x="157.94" y="446" width="3.9" height="5" fill="#fff" />
<rect x="164.16" y="413" width="3.9" height="5" fill="#fff" />
<rect x="164.16" y="446" width="3.9" height="5" fill="#fff" />
<rect x="86" y="421" width="37" height="2" fill="#fff" />
<rect x="127" y="421" width="37.5" height="2" fill="#fff" />
<rect x="86" y="442" width="37" height="2" fill="#fff" />
<rect x="127" y="442" width="37.5" height="2" fill="#fff" />
<polygon points="86,423 88,423 88,425.5 86,424" fill="#fff" stroke="none" stroke-width="1" />
<polygon points="86,442 88,442 88,439.5 86,441" fill="#fff" stroke="none" stroke-width="1" />
<polygon points="90,425.2 162.5,425.2 164.5,427.2 164.5,438.2 162.5,440.2 90,440.2 88,438.2 88,427.2" fill="#fff" stroke="none" stroke-width="1" />
<rect x="167" y="428.5" width="3" height="7" fill="#fff" />
<text transform="translate(90.70,437.8) scale(0.68,1)" font-size="14" fill="#000" stroke="#000" stroke-width="0.22" >B</text>
<text transform="translate(99.23,437.8) scale(0.68,1)" font-size="14" fill="#000" stroke="#000" stroke-width="0.22" >O</text>
<text transform="translate(108.81,437.8) scale(0.68,1)" font-size="14" fill="#000" stroke="#000" stroke-width="0.22" >O</text>
<text transform="translate(118.39,437.8) scale(0.68,1)" font-size="14" fill="#000" stroke="#000" stroke-width="0.22" >T</text>
<text transform="translate(133.70,437.8) scale(0.68,1)" font-size="14" fill="#000" stroke="#000" stroke-width="0.22" >R</text>
<text transform="translate(142.96,437.8) scale(0.68,1)" font-size="14" fill="#000" stroke="#000" stroke-width="0.22" >O</text>
<text transform="translate(152.75,437.8) scale(0.68,1)" font-size="14" fill="#000" stroke="#000" stroke-width="0.22" >M</text>
<rect x="246" y="350" width="12" height="118.6" fill="#000" />
<rect x="247" y="351.6" width="10" height="1" fill="#fff" />
<rect x="247" y="357.31" width="10" height="1" fill="#fff" />
<rect x="247" y="363.02" width="10" height="1" fill="#fff" />
<rect x="247" y="368.73" width="10" height="1" fill="#fff" />
<rect x="247" y="374.44" width="10" height="1" fill="#fff" />
<rect x="247" y="380.15" width="10" height="1" fill="#fff" />
<rect x="247" y="385.86" width="10" height="1" fill="#fff" />
<rect x="247" y="391.57" width="10" height="1" fill="#fff" />
<rect x="247" y="397.28" width="10" height="1" fill="#fff" />
<rect x="247" y="402.99" width="10" height="1" fill="#fff" />
<rect x="247" y="408.7" width="10" height="1" fill="#fff" />
<rect x="247" y="414.41" width="10" height="1" fill="#fff" />
<rect x="247" y="420.12" width="10" height="1" fill="#fff" />
<rect x="247" y="425.83" width="10" height="1" fill="#fff" />
<rect x="247" y="431.54" width="10" height="1" fill="#fff" />
<rect x="247" y="437.25" width="10" height="1" fill="#fff" />
<rect x="247" y="442.96" width="10" height="1" fill="#fff" />
<rect x="247" y="448.67" width="10" height="1" fill="#fff" />
<rect x="247" y="454.38" width="10" height="1" fill="#fff" />
<rect x="247" y="460.09" width="10" height="1" fill="#fff" />
<rect x="247" y="465.8" width="10" height="1" fill="#fff" />
<rect x="252" y="351.5" width="1" height="115.6" fill="#fff" />
<rect x="254.3" y="462.19" width="2.2" height="2.51" fill="#fff" />
<rect x="271" y="368.3" width="13" height="100.3" fill="#000" />
<rect x="272" y="369.9" width="11" height="1" fill="#fff" />
<rect x="272" y="375.541" width="11" height="1" fill="#fff" />
<rect x="272" y="381.182" width="11" height="1" fill="#fff" />
<rect x="272" y="386.824" width="11" height="1" fill="#fff" />
<rect x="272" y="392.465" width="11" height="1" fill="#fff" />
<rect x="272" y="398.106" width="11" height="1" fill="#fff" />
<rect x="272" y="403.747" width="11" height="1" fill="#fff" />
<rect x="272" y="409.388" width="11" height="1" fill="#fff" />
<rect x="272" y="415.029" width="11" height="1" fill="#fff" />
<rect x="272" y="420.671" width="11" height="1" fill="#fff" />
<rect x="272" y="426.312" width="11" height="1" fill="#fff" />
<rect x="272" y="431.953" width="11" height="1" fill="#fff" />
<rect x="272" y="437.594" width="11" height="1" fill="#fff" />
<rect x="272" y="443.235" width="11" height="1" fill="#fff" />
<rect x="272" y="448.876" width="11" height="1" fill="#fff" />
<rect x="272" y="454.518" width="11" height="1" fill="#fff" />
<rect x="272" y="460.159" width="11" height="1" fill="#fff" />
<rect x="272" y="465.8" width="11" height="1" fill="#fff" />
<rect x="277" y="369.8" width="1" height="97.3" fill="#fff" />
<rect x="272" y="369.8" width="1.6" height="97.3" fill="#fff" />
<rect x="279.3" y="462.259" width="2.2" height="2.44118" fill="#fff" />
<rect x="296" y="350" width="12" height="118.6" fill="#000" />
<rect x="297" y="351.6" width="10" height="1" fill="#fff" />
<rect x="297" y="357.31" width="10" height="1" fill="#fff" />
<rect x="297" y="363.02" width="10" height="1" fill="#fff" />
<rect x="297" y="368.73" width="10" height="1" fill="#fff" />
<rect x="297" y="374.44" width="10" height="1" fill="#fff" />
<rect x="297" y="380.15" width="10" height="1" fill="#fff" />
<rect x="297" y="385.86" width="10" height="1" fill="#fff" />
<rect x="297" y="391.57" width="10" height="1" fill="#fff" />
<rect x="297" y="397.28" width="10" height="1" fill="#fff" />
<rect x="297" y="402.99" width="10" height="1" fill="#fff" />
<rect x="297" y="408.7" width="10" height="1" fill="#fff" />
<rect x="297" y="414.41" width="10" height="1" fill="#fff" />
<rect x="297" y="420.12" width="10" height="1" fill="#fff" />
<rect x="297" y="425.83" width="10" height="1" fill="#fff" />
<rect x="297" y="431.54" width="10" height="1" fill="#fff" />
<rect x="297" y="437.25" width="10" height="1" fill="#fff" />
<rect x="297" y="442.96" width="10" height="1" fill="#fff" />
<rect x="297" y="448.67" width="10" height="1" fill="#fff" />
<rect x="297" y="454.38" width="10" height="1" fill="#fff" />
<rect x="297" y="460.09" width="10" height="1" fill="#fff" />
<rect x="297" y="465.8" width="10" height="1" fill="#fff" />
<rect x="302" y="351.5" width="1" height="115.6" fill="#fff" />
<rect x="304.3" y="462.19" width="2.2" height="2.51" fill="#fff" />
<polygon points="199,402 231,402 233,404 233,419 231,421 199,421 197,419 197,404" fill="#000" stroke="none" stroke-width="1" />
<polygon points="200,404 229,404 230,405 230,417 229,418 200,418 199,417 199,405" fill="#fff" stroke="none" stroke-width="1" />
<text transform="translate(204.00,415.9) scale(0.68,1)" font-size="14" fill="#000" stroke="#000" stroke-width="0.22" >J</text>
<path d="M213.34 406.00 h1.05 v9.90 h-1.05 v-6.60 h-2.00 v-1.05 h2.00 z" fill="#000" shape-rendering="auto"/>
<text transform="translate(218.02,415.9) scale(0.68,1)" font-size="14" fill="#000" stroke="#000" stroke-width="0.22" >2</text>
<polygon points="232.5,414.8 234.6,414.3 235.3,413.5 239.5,413.3 240.2,413.2 243.14,413.1 243.42,412.25 246.5,412.25 246.5,409.75 243.42,409.75 243.14,408.9 240.2,408.8 239.5,408.7 235.3,408.5 234.6,407.7 232.5,407.2" fill="#000" stroke="none" stroke-width="1" shape-rendering="geometricPrecision"/>
<polygon points="229.3,412.8 233.9,412.6 234.88,411.6 238.38,411.5 238.38,410.5 234.88,410.4 233.9,409.4 229.3,409.2" fill="#fff" stroke="none" stroke-width="1" shape-rendering="geometricPrecision"/>
<polygon points="263,334 293,334 295,336 295,351 293,353 263,353 261,351 261,336" fill="#000" stroke="none" stroke-width="1" />
<polygon points="265,337 292,337 293,338 293,350 292,351 265,351 264,350 264,338" fill="#fff" stroke="none" stroke-width="1" />
<text transform="translate(266.90,347.9) scale(0.68,1)" font-size="14" fill="#000" stroke="#000" stroke-width="0.22" >J</text>
<path d="M276.19 338.00 h1.05 v9.90 h-1.05 v-6.60 h-2.00 v-1.05 h2.00 z" fill="#000" shape-rendering="auto"/>
<text transform="translate(280.82,347.9) scale(0.68,1)" font-size="14" fill="#000" stroke="#000" stroke-width="0.22" >0</text>
<polygon points="273.8,352.5 274.7,354.58 274.8,356.82 275.5,361.3 276,365.94 276.7,366.26 276.7,368.5 278.1,368.5 278.1,366.26 278.8,365.94 279.3,361.3 280,356.82 280.1,354.58 281,352.5" fill="#000" stroke="none" stroke-width="1" shape-rendering="geometricPrecision"/>
<polygon points="275.6,350.3 275.9,352.5 276.6,355.7 277.4,360.5 277.4,360.5 278.2,355.7 278.9,352.5 279.2,350.3" fill="#fff" stroke="none" stroke-width="1" shape-rendering="geometricPrecision"/>
<polygon points="315,341 346,341 348,343 348,358 346,360 315,360 313,358 313,343" fill="#000" stroke="none" stroke-width="1" />
<polygon points="316,343 345,343 346,344 346,356 345,357 316,357 315,356 315,344" fill="#fff" stroke="none" stroke-width="1" />
<text transform="translate(319.80,354) scale(0.68,1)" font-size="14" fill="#000" stroke="#000" stroke-width="0.22" >J</text>
<path d="M329.93 344.10 h1.05 v9.90 h-1.05 v-6.60 h-2.00 v-1.05 h2.00 z" fill="#000" shape-rendering="auto"/>
<path d="M337.40 344.10 h1.05 v9.90 h-1.05 v-6.60 h-2.00 v-1.05 h2.00 z" fill="#000" shape-rendering="auto"/>
<polygon points="313,353 315,353 319,357 319,360 310,366.8 307.5,366.8 307.5,363.5" fill="#000" stroke="none" stroke-width="1" />
<polygon points="315,354.5 317.5,357.3 312.8,361 311.3,360.2" fill="#fff" stroke="none" stroke-width="1" />
<polygon points="179,435 201,435 203,437 203,452 201,454 179,454 177,452 177,437" fill="#000" stroke="none" stroke-width="1" />
<polygon points="180,437 200,437 201,438 201,451 200,452 180,452 179,451 179,438" fill="#fff" stroke="none" stroke-width="1" />
<text transform="translate(183.00,449) scale(0.68,1)" font-size="14" fill="#000" stroke="#000" stroke-width="0.22" >J</text>
<text transform="translate(189.92,449) scale(0.68,1)" font-size="14" fill="#000" stroke="#000" stroke-width="0.22" >0</text>
<polygon points="202.5,448.1 204.75,447.6 205.5,446.8 210,446.6 210.75,446.5 213.9,446.4 214.2,445.55 217.5,445.55 217.5,443.05 214.2,443.05 213.9,442.2 210.75,442.1 210,442 205.5,441.8 204.75,441 202.5,440.5" fill="#000" stroke="none" stroke-width="1" shape-rendering="geometricPrecision"/>
<polygon points="199.3,446.1 204,445.9 205.05,444.9 208.8,444.8 208.8,443.8 205.05,443.7 204,442.7 199.3,442.5" fill="#fff" stroke="none" stroke-width="1" shape-rendering="geometricPrecision"/>
<rect x="217" y="429" width="6" height="31" fill="#000" />
<rect x="218.2" y="434.5" width="3.8" height="1" fill="#fff" />
<rect x="218.2" y="441" width="3.8" height="1.2" fill="#fff" />
<rect x="218.2" y="446" width="3.8" height="1.8" fill="#fff" />
<rect x="218.2" y="452" width="3.8" height="1.8" fill="#fff" />
<rect x="218.2" y="457.8" width="3.8" height="1" fill="#fff" />
<polygon points="353,339.5 374.5,339.5 376.5,341.5 376.5,354.5 374.5,356.5 353,356.5 351,354.5 351,341.5" fill="#000" stroke="none" stroke-width="1" />
<polygon points="354,341.5 373.5,341.5 374.5,342.5 374.5,353.5 373.5,354.5 354,354.5 353,353.5 353,342.5" fill="#fff" stroke="none" stroke-width="1" />
<text transform="translate(356.30,351.8) scale(0.68,1)" font-size="14" fill="#000" stroke="#000" stroke-width="0.22" >E</text>
<text transform="translate(365.82,351.8) scale(0.68,1)" font-size="14" fill="#000" stroke="#000" stroke-width="0.22" >3</text>
<polygon points="358.9,356 359.8,358.145 359.9,360.455 360.6,365.075 361.1,369.86 361.8,370.19 361.8,372.5 363.2,372.5 363.2,370.19 363.9,369.86 364.4,365.075 365.1,360.455 365.2,358.145 366.1,356" fill="#000" stroke="none" stroke-width="1" shape-rendering="geometricPrecision"/>
<polygon points="360.7,352.8 361,356 361.7,359.3 362.5,364.25 362.5,364.25 363.3,359.3 364,356 364.3,352.8" fill="#fff" stroke="none" stroke-width="1" shape-rendering="geometricPrecision"/>
<rect x="318" y="372" width="56" height="24.5" fill="#000" />
<rect x="319" y="373" width="54" height="22.5" fill="#fff" />
<rect x="318" y="379.5" width="56" height="1" fill="#000" />
<rect x="318" y="393" width="56" height="1" fill="#000" />
<ellipse cx="323.5" cy="376.2" rx="2.6" ry="1.3" fill="#fff" stroke="#000" stroke-width="1" shape-rendering="auto"/>
<rect x="320.5" y="378" width="6.5" height="1" fill="#000" />
<rect x="320.3" y="382.3" width="6.8" height="2" fill="#000" />
<ellipse cx="332.5" cy="376.2" rx="2.6" ry="1.3" fill="#fff" stroke="#000" stroke-width="1" shape-rendering="auto"/>
<rect x="329.5" y="378" width="6.5" height="1" fill="#000" />
<rect x="329.25" y="382.3" width="6.8" height="2" fill="#000" />
<ellipse cx="341.5" cy="376.2" rx="2.6" ry="1.3" fill="#fff" stroke="#000" stroke-width="1" shape-rendering="auto"/>
<rect x="338.5" y="378" width="6.5" height="1" fill="#000" />
<rect x="338.2" y="382.3" width="6.8" height="2" fill="#000" />
<ellipse cx="350.5" cy="376.2" rx="2.6" ry="1.3" fill="#fff" stroke="#000" stroke-width="1" shape-rendering="auto"/>
<rect x="347.5" y="378" width="6.5" height="1" fill="#000" />
<rect x="347.15" y="382.3" width="6.8" height="2" fill="#000" />
<ellipse cx="359.5" cy="376.2" rx="2.6" ry="1.3" fill="#fff" stroke="#000" stroke-width="1" shape-rendering="auto"/>
<rect x="356.5" y="378" width="6.5" height="1" fill="#000" />
<rect x="356.1" y="382.3" width="6.8" height="2" fill="#000" />
<ellipse cx="368.5" cy="376.2" rx="2.6" ry="1.3" fill="#fff" stroke="#000" stroke-width="1" shape-rendering="auto"/>
<rect x="365.5" y="378" width="6.5" height="1" fill="#000" />
<rect x="365.05" y="382.3" width="6.8" height="2" fill="#000" />
<rect x="324.3" y="385.8" width="6.5" height="7.4" fill="#000" />
<rect x="325.3" y="386.8" width="4.5" height="5.4" fill="#fff" />
<rect x="333.3" y="385.8" width="6.5" height="7.4" fill="#000" />
<rect x="334.3" y="386.8" width="4.5" height="5.4" fill="#fff" />
<rect x="342.3" y="385.8" width="6.5" height="7.4" fill="#000" />
<rect x="343.3" y="386.8" width="4.5" height="5.4" fill="#fff" />
<rect x="351.3" y="385.8" width="6.5" height="7.4" fill="#000" />
<rect x="352.3" y="386.8" width="4.5" height="5.4" fill="#fff" />
<rect x="361.3" y="385.8" width="7.5" height="7.4" fill="#000" />
<rect x="362.3" y="386.8" width="5.5" height="5.4" fill="#fff" />
<rect x="319" y="386.5" width="1.5" height="5" fill="#000" />
<rect x="319" y="387.5" width="0.7" height="3" fill="#fff" />
<rect x="371.5" y="386.5" width="1.5" height="5" fill="#000" />
<rect x="372.3" y="387.5" width="0.7" height="3" fill="#fff" />
<rect x="318" y="408" width="56" height="24.5" fill="#000" />
<rect x="319" y="409" width="54" height="22.5" fill="#fff" />
<rect x="318" y="415.5" width="56" height="1" fill="#000" />
<rect x="318" y="429" width="56" height="1" fill="#000" />
<rect x="322" y="410.5" width="3.5" height="5" fill="#000" />
<rect x="320.5" y="412" width="6.5" height="2" fill="#000" />
<rect x="320.3" y="417.6" width="6.8" height="3" fill="#000" />
<rect x="331" y="410.5" width="3.5" height="5" fill="#000" />
<rect x="329.5" y="412" width="6.5" height="2" fill="#000" />
<rect x="329.25" y="417.6" width="6.8" height="3" fill="#000" />
<rect x="340" y="410.5" width="3.5" height="5" fill="#000" />
<rect x="338.5" y="412" width="6.5" height="2" fill="#000" />
<rect x="338.2" y="417.6" width="6.8" height="3" fill="#000" />
<rect x="349" y="410.5" width="3.5" height="5" fill="#000" />
<rect x="347.5" y="412" width="6.5" height="2" fill="#000" />
<rect x="347.15" y="417.6" width="6.8" height="3" fill="#000" />
<rect x="358" y="410.5" width="3.5" height="5" fill="#000" />
<rect x="356.5" y="412" width="6.5" height="2" fill="#000" />
<rect x="356.1" y="417.6" width="6.8" height="3" fill="#000" />
<rect x="367" y="410.5" width="3.5" height="5" fill="#000" />
<rect x="365.5" y="412" width="6.5" height="2" fill="#000" />
<rect x="365.05" y="417.6" width="6.8" height="3" fill="#000" />
<rect x="324.3" y="421.8" width="6.5" height="7.4" fill="#000" />
<rect x="325.3" y="422.8" width="4.5" height="5.4" fill="#fff" />
<rect x="333.3" y="421.8" width="6.5" height="7.4" fill="#000" />
<rect x="334.3" y="422.8" width="4.5" height="5.4" fill="#fff" />
<rect x="342.3" y="421.8" width="6.5" height="7.4" fill="#000" />
<rect x="343.3" y="422.8" width="4.5" height="5.4" fill="#fff" />
<rect x="351.3" y="421.8" width="6.5" height="7.4" fill="#000" />
<rect x="352.3" y="422.8" width="4.5" height="5.4" fill="#fff" />
<rect x="361.3" y="421.8" width="7.5" height="7.4" fill="#000" />
<rect x="362.3" y="422.8" width="5.5" height="5.4" fill="#fff" />
<rect x="319" y="422.5" width="1.5" height="5" fill="#000" />
<rect x="319" y="423.5" width="0.7" height="3" fill="#fff" />
<rect x="371.5" y="422.5" width="1.5" height="5" fill="#000" />
<rect x="372.3" y="423.5" width="0.7" height="3" fill="#fff" />
<rect x="318" y="444.3" width="56" height="24.5" fill="#000" />
<rect x="319" y="445.3" width="54" height="22.5" fill="#fff" />
<rect x="318" y="451.8" width="56" height="1" fill="#000" />
<rect x="318" y="465.3" width="56" height="1" fill="#000" />
<rect x="322" y="446.8" width="3.5" height="5" fill="#000" />
<rect x="320.5" y="448.3" width="6.5" height="2" fill="#000" />
<rect x="320.3" y="453.9" width="6.8" height="3" fill="#000" />
<rect x="331" y="446.8" width="3.5" height="5" fill="#000" />
<rect x="329.5" y="448.3" width="6.5" height="2" fill="#000" />
<rect x="329.25" y="453.9" width="6.8" height="3" fill="#000" />
<rect x="340" y="446.8" width="3.5" height="5" fill="#000" />
<rect x="338.5" y="448.3" width="6.5" height="2" fill="#000" />
<rect x="338.2" y="453.9" width="6.8" height="3" fill="#000" />
<rect x="349" y="446.8" width="3.5" height="5" fill="#000" />
<rect x="347.5" y="448.3" width="6.5" height="2" fill="#000" />
<rect x="347.15" y="453.9" width="6.8" height="3" fill="#000" />
<rect x="358" y="446.8" width="3.5" height="5" fill="#000" />
<rect x="356.5" y="448.3" width="6.5" height="2" fill="#000" />
<rect x="356.1" y="453.9" width="6.8" height="3" fill="#000" />
<rect x="367" y="446.8" width="3.5" height="5" fill="#000" />
<rect x="365.5" y="448.3" width="6.5" height="2" fill="#000" />
<rect x="365.05" y="453.9" width="6.8" height="3" fill="#000" />
<rect x="324.3" y="458.1" width="6.5" height="7.4" fill="#000" />
<rect x="325.3" y="459.1" width="4.5" height="5.4" fill="#fff" />
<rect x="333.3" y="458.1" width="6.5" height="7.4" fill="#000" />
<rect x="334.3" y="459.1" width="4.5" height="5.4" fill="#fff" />
<rect x="342.3" y="458.1" width="6.5" height="7.4" fill="#000" />
<rect x="343.3" y="459.1" width="4.5" height="5.4" fill="#fff" />
<rect x="351.3" y="458.1" width="6.5" height="7.4" fill="#000" />
<rect x="352.3" y="459.1" width="4.5" height="5.4" fill="#fff" />
<rect x="361.3" y="458.1" width="7.5" height="7.4" fill="#000" />
<rect x="362.3" y="459.1" width="5.5" height="5.4" fill="#fff" />
<rect x="319" y="458.8" width="1.5" height="5" fill="#000" />
<rect x="319" y="459.8" width="0.7" height="3" fill="#fff" />
<rect x="371.5" y="458.8" width="1.5" height="5" fill="#000" />
<rect x="372.3" y="459.8" width="0.7" height="3" fill="#fff" />
<circle cx="398.8" cy="354.8" r="14.2" fill="#000" shape-rendering="auto"/>
<circle cx="398.8" cy="354.8" r="3.2" fill="#fff" shape-rendering="auto"/>
<rect x="404" y="409" width="10" height="20" fill="#000" />
<rect x="405" y="410" width="8" height="18" fill="#fff" />
<rect x="406.8" y="411" width="5" height="4.2" fill="#000" />
<rect x="406.8" y="416.85" width="5" height="4.2" fill="#000" />
<rect x="406.8" y="422.7" width="5" height="4.2" fill="#000" />
<polygon points="429,410 451,410 453,412 453,427 451,429 429,429 427,427 427,412" fill="#000" stroke="none" stroke-width="1" />
<polygon points="430,412 450,412 451,413 451,425 450,426 430,426 429,425 429,413" fill="#fff" stroke="none" stroke-width="1" />
<text transform="translate(432.80,422.8) scale(0.68,1)" font-size="14" fill="#000" stroke="#000" stroke-width="0.22" >J</text>
<text transform="translate(439.72,422.8) scale(0.68,1)" font-size="14" fill="#000" stroke="#000" stroke-width="0.22" >9</text>
<polygon points="427.5,415.2 425.4,415.7 424.7,416.5 420.5,416.7 419.8,416.8 416.86,416.9 416.58,417.75 413.5,417.75 413.5,420.25 416.58,420.25 416.86,421.1 419.8,421.2 420.5,421.3 424.7,421.5 425.4,422.3 427.5,422.8" fill="#000" stroke="none" stroke-width="1" shape-rendering="geometricPrecision"/>
<polygon points="429.7,417.2 426.1,417.4 425.12,418.4 421.62,418.5 421.62,419.5 425.12,419.6 426.1,420.6 429.7,420.8" fill="#fff" stroke="none" stroke-width="1" shape-rendering="geometricPrecision"/>
<rect x="404" y="433" width="10" height="14" fill="#000" />
<rect x="405" y="434" width="8" height="12" fill="#fff" />
<rect x="406.8" y="435.2" width="5" height="4" fill="#000" />
<rect x="406.8" y="441.05" width="5" height="4" fill="#000" />
<polygon points="429,431.5 451,431.5 453,433.5 453,447 451,449 429,449 427,447 427,433.5" fill="#000" stroke="none" stroke-width="1" />
<polygon points="430,433.5 450,433.5 451,434.5 451,445.5 450,446.5 430,446.5 429,445.5 429,434.5" fill="#fff" stroke="none" stroke-width="1" />
<text transform="translate(433.00,443.8) scale(0.68,1)" font-size="14" fill="#000" stroke="#000" stroke-width="0.22" >J</text>
<text transform="translate(439.92,443.8) scale(0.68,1)" font-size="14" fill="#000" stroke="#000" stroke-width="0.22" >8</text>
<polygon points="427.5,436.2 425.4,436.7 424.7,437.5 420.5,437.7 419.8,437.8 416.86,437.9 416.58,438.75 413.5,438.75 413.5,441.25 416.58,441.25 416.86,442.1 419.8,442.2 420.5,442.3 424.7,442.5 425.4,443.3 427.5,443.8" fill="#000" stroke="none" stroke-width="1" shape-rendering="geometricPrecision"/>
<polygon points="429.7,438.2 426.1,438.4 425.12,439.4 421.62,439.5 421.62,440.5 425.12,440.6 426.1,441.6 429.7,441.8" fill="#fff" stroke="none" stroke-width="1" shape-rendering="geometricPrecision"/>
<polygon points="109,272 139,272 141,274 141,289 139,291 109,291 107,289 107,274" fill="#000" stroke="none" stroke-width="1" />
<polygon points="110,274 138,274 139,275 139,287 138,288 110,288 109,287 109,275" fill="#fff" stroke="none" stroke-width="1" />
<text transform="translate(112.70,285.6) scale(0.68,1)" font-size="14" fill="#000" stroke="#000" stroke-width="0.22" >J</text>
<text transform="translate(119.66,285.6) scale(0.68,1)" font-size="14" fill="#000" stroke="#000" stroke-width="0.22" >P</text>
<text transform="translate(128.22,285.6) scale(0.68,1)" font-size="14" fill="#000" stroke="#000" stroke-width="0.22" >2</text>
<polygon points="119.901,290.433 120.761,292.529 120.819,294.771 121.435,299.264 121.848,303.914 122.542,304.247 122.5,306.487 123.9,306.513 123.942,304.273 124.648,303.966 125.235,299.336 126.019,294.869 126.161,292.631 127.099,290.567" fill="#000" stroke="none" stroke-width="1" shape-rendering="geometricPrecision"/>
<polygon points="121.76,287.267 122,290.472 122.64,293.685 123.35,298.5 123.35,298.5 124.24,293.715 125,290.528 125.36,287.334" fill="#fff" stroke="none" stroke-width="1" shape-rendering="geometricPrecision"/>
<rect x="93" y="306" width="61" height="12" fill="#000" />
<rect x="94" y="307.5" width="1" height="9.5" fill="#fff" />
<rect x="100" y="307.5" width="1" height="9.5" fill="#fff" />
<rect x="105" y="307.5" width="1" height="9.5" fill="#fff" />
<rect x="111" y="307.5" width="1" height="9.5" fill="#fff" />
<rect x="117" y="307.5" width="1" height="9.5" fill="#fff" />
<rect x="123" y="307.5" width="1" height="9.5" fill="#fff" />
<rect x="129" y="307.5" width="1" height="9.5" fill="#fff" />
<rect x="134" y="307.5" width="1" height="9.5" fill="#fff" />
<rect x="140" y="307.5" width="1" height="9.5" fill="#fff" />
<rect x="146" y="307.5" width="1" height="9.5" fill="#fff" />
<rect x="152" y="307.5" width="1.6" height="9.5" fill="#fff" />
<rect x="96.5" y="313" width="2" height="3" fill="#fff" />
<text transform="translate(94.70,303.6) scale(0.85,1)" font-size="8.8" fill="#000" stroke="#000" stroke-width="0.4">2</text>
</svg>
</body></html>
